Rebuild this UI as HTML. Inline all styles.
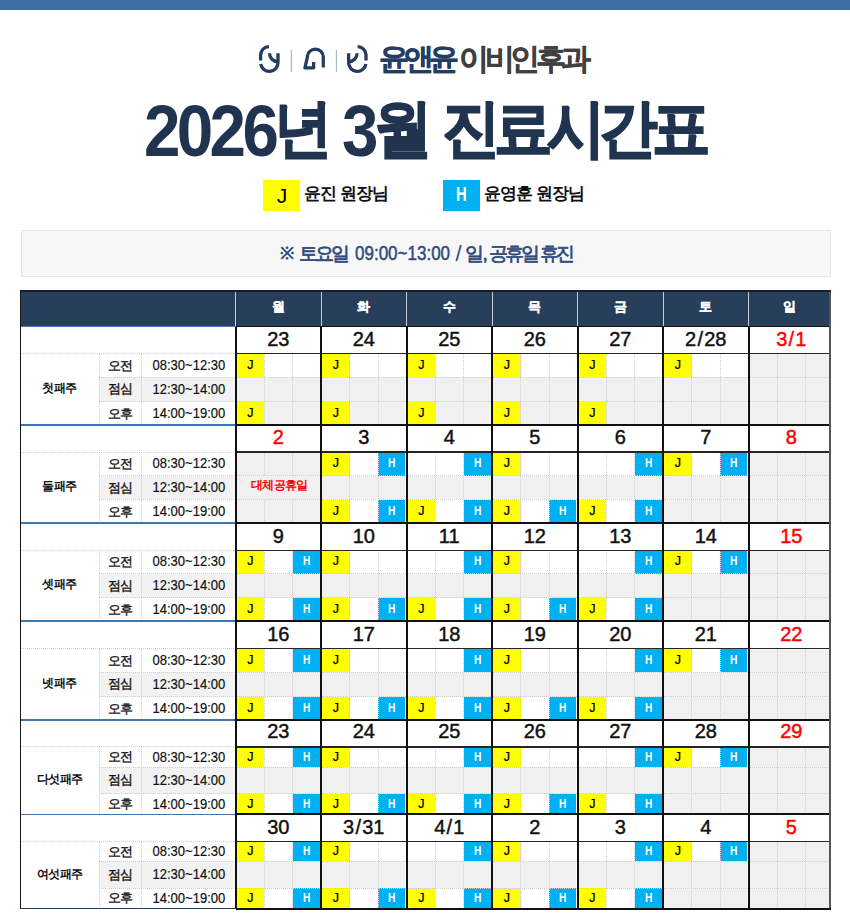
<!DOCTYPE html>
<html><head><meta charset="utf-8"><style>
html,body{margin:0;padding:0;background:#fff;}
body{width:850px;height:921px;position:relative;overflow:hidden;font-family:"Liberation Sans", sans-serif;}
body div{position:absolute;box-sizing:border-box;}
.t{text-align:center;white-space:nowrap;}
</style></head><body>
<div style="left:0.00px;top:0.00px;width:850.00px;height:10.00px;background:#3c6fa6"></div>
<div style="left:21.00px;top:230.00px;width:810.00px;height:47.00px;background:#f7f7f7;border:1px solid #e6e6e6"></div>
<div style="left:280.00px;top:245.00px;font-size:17px;line-height:17px;white-space:nowrap;color:#2f4b7c;font-weight:bold;">※</div>
<div style="left:299.00px;top:243.50px;font-size:19px;line-height:19px;white-space:nowrap;color:#2f4b7c;font-weight:bold;font-weight:normal;-webkit-text-stroke:0.7px #2f4b7c;letter-spacing:-3px">토요일</div>
<div style="left:354.50px;top:242.00px;font-size:21px;line-height:21px;white-space:nowrap;transform:scaleX(0.81);transform-origin:0 0;color:#2f4b7c;font-weight:bold;font-weight:normal;-webkit-text-stroke:0.5px #2f4b7c;">09:00~13:00</div>
<div style="left:455.50px;top:243.00px;font-size:22px;line-height:22px;white-space:nowrap;color:#2f4b7c;font-weight:bold;font-weight:normal;">/</div>
<div style="left:464.50px;top:243.50px;font-size:19px;line-height:19px;white-space:nowrap;color:#2f4b7c;font-weight:bold;font-weight:normal;-webkit-text-stroke:0.7px #2f4b7c;letter-spacing:-1px">일,</div>
<div style="left:489.00px;top:243.50px;font-size:19px;line-height:19px;white-space:nowrap;color:#2f4b7c;font-weight:bold;font-weight:normal;-webkit-text-stroke:0.7px #2f4b7c;letter-spacing:-3px">공휴일</div>
<div style="left:540.00px;top:243.50px;font-size:19px;line-height:19px;white-space:nowrap;color:#2f4b7c;font-weight:bold;font-weight:normal;-webkit-text-stroke:0.7px #2f4b7c;letter-spacing:-3px">휴진</div>
<div style="left:263.00px;top:179.50px;width:37.00px;height:31.50px;background:#ffff00"></div>
<div style="left:276.80px;top:184.50px;font-size:21px;line-height:21px;white-space:nowrap;color:#000">J</div>
<div style="left:304.00px;top:185.00px;font-size:17px;line-height:17px;white-space:nowrap;font-weight:bold;color:#111;letter-spacing:-1px">윤진 원장님</div>
<div style="left:443.00px;top:179.50px;width:36.80px;height:31.50px;background:#00b0f0"></div>
<div style="left:455.50px;top:184.00px;font-size:20px;line-height:20px;white-space:nowrap;transform:scaleX(0.74);transform-origin:0 0;color:#fff;font-weight:bold">H</div>
<div style="left:484.00px;top:185.00px;font-size:17px;line-height:17px;white-space:nowrap;font-weight:bold;color:#111;letter-spacing:-1px">윤영훈 원장님</div>
<div style="left:144.00px;top:95.00px;font-size:72px;line-height:72px;white-space:nowrap;transform:scaleX(0.91);transform-origin:0 0;color:#203450;font-weight:bold;letter-spacing:-4px">2026</div>
<div style="left:273.50px;top:96.50px;font-size:63px;line-height:63px;white-space:nowrap;transform:scaleX(0.93);transform-origin:0 0;color:#203450;font-weight:bold;-webkit-text-stroke:1.6px #203450;">년</div>
<div style="left:342.00px;top:95.00px;font-size:72px;line-height:72px;white-space:nowrap;transform:scaleX(0.91);transform-origin:0 0;color:#203450;font-weight:bold;">3</div>
<div style="left:373.70px;top:96.50px;font-size:63px;line-height:63px;white-space:nowrap;transform:scaleX(0.93);transform-origin:0 0;color:#203450;font-weight:bold;-webkit-text-stroke:1.6px #203450;">월</div>
<div style="left:442.00px;top:96.50px;font-size:63px;line-height:63px;white-space:nowrap;transform:scaleX(0.93);transform-origin:0 0;color:#203450;font-weight:bold;-webkit-text-stroke:1.6px #203450;letter-spacing:-6.6px">진료시간표</div>
<div style="left:379.00px;top:44.00px;font-size:30px;line-height:30px;white-space:nowrap;color:#233d63;font-weight:bold;-webkit-text-stroke:0.45px #233d63;letter-spacing:-4.8px">윤앤윤</div>
<div style="left:459.00px;top:44.00px;font-size:30px;line-height:30px;white-space:nowrap;color:#404040;font-weight:bold;-webkit-text-stroke:0.35px #404040;letter-spacing:-4.4px">이비인후과</div>
<div style="left:20.00px;top:290.50px;width:810.00px;height:36.00px;background:#283f5c"></div>
<div class="t" style="left:235.50px;top:289.00px;width:85.50px;height:36.00px;line-height:36.00px;font-size:12.5px;font-weight:bold;color:#fff;-webkit-text-stroke:0.4px #fff">월</div>
<div style="left:235.00px;top:292.00px;width:1.20px;height:34.50px;background:#c9ced6"></div>
<div class="t" style="left:321.00px;top:289.00px;width:85.50px;height:36.00px;line-height:36.00px;font-size:12.5px;font-weight:bold;color:#fff;-webkit-text-stroke:0.4px #fff">화</div>
<div style="left:320.50px;top:292.00px;width:1.20px;height:34.50px;background:#c9ced6"></div>
<div class="t" style="left:406.50px;top:289.00px;width:85.50px;height:36.00px;line-height:36.00px;font-size:12.5px;font-weight:bold;color:#fff;-webkit-text-stroke:0.4px #fff">수</div>
<div style="left:406.00px;top:292.00px;width:1.20px;height:34.50px;background:#c9ced6"></div>
<div class="t" style="left:492.00px;top:289.00px;width:85.50px;height:36.00px;line-height:36.00px;font-size:12.5px;font-weight:bold;color:#fff;-webkit-text-stroke:0.4px #fff">목</div>
<div style="left:491.50px;top:292.00px;width:1.20px;height:34.50px;background:#c9ced6"></div>
<div class="t" style="left:577.50px;top:289.00px;width:85.50px;height:36.00px;line-height:36.00px;font-size:12.5px;font-weight:bold;color:#fff;-webkit-text-stroke:0.4px #fff">금</div>
<div style="left:577.00px;top:292.00px;width:1.20px;height:34.50px;background:#c9ced6"></div>
<div class="t" style="left:663.00px;top:289.00px;width:85.50px;height:36.00px;line-height:36.00px;font-size:12.5px;font-weight:bold;color:#fff;-webkit-text-stroke:0.4px #fff">토</div>
<div style="left:662.50px;top:292.00px;width:1.20px;height:34.50px;background:#c9ced6"></div>
<div class="t" style="left:748.50px;top:289.00px;width:81.50px;height:36.00px;line-height:36.00px;font-size:12.5px;font-weight:bold;color:#fff;-webkit-text-stroke:0.4px #fff">일</div>
<div style="left:748.00px;top:292.00px;width:1.20px;height:34.50px;background:#c9ced6"></div>
<div style="left:99.00px;top:377.30px;width:136.50px;height:24.50px;background:#f2f2f2"></div>
<div style="left:20.00px;top:353.10px;width:215.50px;height:1.00px;border-top:1px dotted #cdcdcd"></div>
<div style="left:99.00px;top:376.80px;width:136.50px;height:1.00px;border-top:1px dotted #cdcdcd"></div>
<div style="left:99.00px;top:401.30px;width:136.50px;height:1.00px;border-top:1px dotted #cdcdcd"></div>
<div style="left:98.50px;top:353.60px;width:1.00px;height:71.20px;border-left:1px dotted #cdcdcd"></div>
<div style="left:141.20px;top:353.60px;width:1.00px;height:71.20px;border-left:1px dotted #cdcdcd"></div>
<div class="t" style="left:20.00px;top:352.60px;width:79.00px;height:71.20px;line-height:71.20px;font-size:12px;font-weight:bold;color:#111;letter-spacing:-0.5px">첫패주</div>
<div class="t" style="left:99.00px;top:353.60px;width:42.70px;height:23.70px;line-height:23.70px;font-size:13px;color:#111;-webkit-text-stroke:0.35px #111;letter-spacing:-0.5px">오전</div>
<div class="t" style="left:141.70px;top:353.60px;width:93.80px;height:23.70px;line-height:23.70px;font-size:14px;color:#111;-webkit-text-stroke:0.2px #111;transform:scaleX(0.93)">08:30~12:30</div>
<div class="t" style="left:99.00px;top:377.30px;width:42.70px;height:24.50px;line-height:24.50px;font-size:13px;color:#111;-webkit-text-stroke:0.35px #111;letter-spacing:-0.5px">점심</div>
<div class="t" style="left:141.70px;top:377.30px;width:93.80px;height:24.50px;line-height:24.50px;font-size:14px;color:#111;-webkit-text-stroke:0.2px #111;transform:scaleX(0.93)">12:30~14:00</div>
<div class="t" style="left:99.00px;top:401.80px;width:42.70px;height:23.00px;line-height:23.00px;font-size:13px;color:#111;-webkit-text-stroke:0.35px #111;letter-spacing:-0.5px">오후</div>
<div class="t" style="left:141.70px;top:401.80px;width:93.80px;height:23.00px;line-height:23.00px;font-size:14px;color:#111;-webkit-text-stroke:0.2px #111;transform:scaleX(0.93)">14:00~19:00</div>
<div class="t" style="left:235.50px;top:326.00px;width:85.50px;height:26.10px;line-height:26.10px;font-size:20px;color:#111;-webkit-text-stroke:0.45px #111">23</div>
<div style="left:236.50px;top:353.60px;width:27.60px;height:23.70px;background:#ffff00"></div>
<div class="t" style="left:236.50px;top:353.60px;width:27.60px;height:23.70px;line-height:23.70px;font-size:12.5px;color:#000;-webkit-text-stroke:0.25px #000">J</div>
<div style="left:264.10px;top:353.60px;width:28.60px;height:23.70px;background:#ffffff"></div>
<div style="left:292.70px;top:353.60px;width:27.30px;height:23.70px;background:#ffffff"></div>
<div style="left:236.50px;top:377.30px;width:27.60px;height:24.50px;background:#f0f0f0"></div>
<div style="left:264.10px;top:377.30px;width:28.60px;height:24.50px;background:#f0f0f0"></div>
<div style="left:292.70px;top:377.30px;width:27.30px;height:24.50px;background:#f0f0f0"></div>
<div style="left:236.50px;top:401.80px;width:27.60px;height:23.00px;background:#ffff00"></div>
<div class="t" style="left:236.50px;top:401.80px;width:27.60px;height:23.00px;line-height:23.00px;font-size:12.5px;color:#000;-webkit-text-stroke:0.25px #000">J</div>
<div style="left:264.10px;top:401.80px;width:28.60px;height:23.00px;background:#f0f0f0"></div>
<div style="left:292.70px;top:401.80px;width:27.30px;height:23.00px;background:#f0f0f0"></div>
<div style="left:263.60px;top:353.60px;width:1.00px;height:71.20px;border-left:1px dotted #cdcdcd"></div>
<div style="left:292.20px;top:353.60px;width:1.00px;height:71.20px;border-left:1px dotted #cdcdcd"></div>
<div style="left:236.50px;top:376.80px;width:83.50px;height:1.00px;border-top:1px dotted #cdcdcd"></div>
<div style="left:236.50px;top:401.30px;width:83.50px;height:1.00px;border-top:1px dotted #cdcdcd"></div>
<div class="t" style="left:321.00px;top:326.00px;width:85.50px;height:26.10px;line-height:26.10px;font-size:20px;color:#111;-webkit-text-stroke:0.45px #111">24</div>
<div style="left:322.00px;top:353.60px;width:27.60px;height:23.70px;background:#ffff00"></div>
<div class="t" style="left:322.00px;top:353.60px;width:27.60px;height:23.70px;line-height:23.70px;font-size:12.5px;color:#000;-webkit-text-stroke:0.25px #000">J</div>
<div style="left:349.60px;top:353.60px;width:28.60px;height:23.70px;background:#ffffff"></div>
<div style="left:378.20px;top:353.60px;width:27.30px;height:23.70px;background:#ffffff"></div>
<div style="left:322.00px;top:377.30px;width:27.60px;height:24.50px;background:#f0f0f0"></div>
<div style="left:349.60px;top:377.30px;width:28.60px;height:24.50px;background:#f0f0f0"></div>
<div style="left:378.20px;top:377.30px;width:27.30px;height:24.50px;background:#f0f0f0"></div>
<div style="left:322.00px;top:401.80px;width:27.60px;height:23.00px;background:#ffff00"></div>
<div class="t" style="left:322.00px;top:401.80px;width:27.60px;height:23.00px;line-height:23.00px;font-size:12.5px;color:#000;-webkit-text-stroke:0.25px #000">J</div>
<div style="left:349.60px;top:401.80px;width:28.60px;height:23.00px;background:#f0f0f0"></div>
<div style="left:378.20px;top:401.80px;width:27.30px;height:23.00px;background:#f0f0f0"></div>
<div style="left:349.10px;top:353.60px;width:1.00px;height:71.20px;border-left:1px dotted #cdcdcd"></div>
<div style="left:377.70px;top:353.60px;width:1.00px;height:71.20px;border-left:1px dotted #cdcdcd"></div>
<div style="left:322.00px;top:376.80px;width:83.50px;height:1.00px;border-top:1px dotted #cdcdcd"></div>
<div style="left:322.00px;top:401.30px;width:83.50px;height:1.00px;border-top:1px dotted #cdcdcd"></div>
<div class="t" style="left:406.50px;top:326.00px;width:85.50px;height:26.10px;line-height:26.10px;font-size:20px;color:#111;-webkit-text-stroke:0.45px #111">25</div>
<div style="left:407.50px;top:353.60px;width:27.60px;height:23.70px;background:#ffff00"></div>
<div class="t" style="left:407.50px;top:353.60px;width:27.60px;height:23.70px;line-height:23.70px;font-size:12.5px;color:#000;-webkit-text-stroke:0.25px #000">J</div>
<div style="left:435.10px;top:353.60px;width:28.60px;height:23.70px;background:#ffffff"></div>
<div style="left:463.70px;top:353.60px;width:27.30px;height:23.70px;background:#ffffff"></div>
<div style="left:407.50px;top:377.30px;width:27.60px;height:24.50px;background:#f0f0f0"></div>
<div style="left:435.10px;top:377.30px;width:28.60px;height:24.50px;background:#f0f0f0"></div>
<div style="left:463.70px;top:377.30px;width:27.30px;height:24.50px;background:#f0f0f0"></div>
<div style="left:407.50px;top:401.80px;width:27.60px;height:23.00px;background:#ffff00"></div>
<div class="t" style="left:407.50px;top:401.80px;width:27.60px;height:23.00px;line-height:23.00px;font-size:12.5px;color:#000;-webkit-text-stroke:0.25px #000">J</div>
<div style="left:435.10px;top:401.80px;width:28.60px;height:23.00px;background:#f0f0f0"></div>
<div style="left:463.70px;top:401.80px;width:27.30px;height:23.00px;background:#f0f0f0"></div>
<div style="left:434.60px;top:353.60px;width:1.00px;height:71.20px;border-left:1px dotted #cdcdcd"></div>
<div style="left:463.20px;top:353.60px;width:1.00px;height:71.20px;border-left:1px dotted #cdcdcd"></div>
<div style="left:407.50px;top:376.80px;width:83.50px;height:1.00px;border-top:1px dotted #cdcdcd"></div>
<div style="left:407.50px;top:401.30px;width:83.50px;height:1.00px;border-top:1px dotted #cdcdcd"></div>
<div class="t" style="left:492.00px;top:326.00px;width:85.50px;height:26.10px;line-height:26.10px;font-size:20px;color:#111;-webkit-text-stroke:0.45px #111">26</div>
<div style="left:493.00px;top:353.60px;width:27.60px;height:23.70px;background:#ffff00"></div>
<div class="t" style="left:493.00px;top:353.60px;width:27.60px;height:23.70px;line-height:23.70px;font-size:12.5px;color:#000;-webkit-text-stroke:0.25px #000">J</div>
<div style="left:520.60px;top:353.60px;width:28.60px;height:23.70px;background:#ffffff"></div>
<div style="left:549.20px;top:353.60px;width:27.30px;height:23.70px;background:#ffffff"></div>
<div style="left:493.00px;top:377.30px;width:27.60px;height:24.50px;background:#f0f0f0"></div>
<div style="left:520.60px;top:377.30px;width:28.60px;height:24.50px;background:#f0f0f0"></div>
<div style="left:549.20px;top:377.30px;width:27.30px;height:24.50px;background:#f0f0f0"></div>
<div style="left:493.00px;top:401.80px;width:27.60px;height:23.00px;background:#ffff00"></div>
<div class="t" style="left:493.00px;top:401.80px;width:27.60px;height:23.00px;line-height:23.00px;font-size:12.5px;color:#000;-webkit-text-stroke:0.25px #000">J</div>
<div style="left:520.60px;top:401.80px;width:28.60px;height:23.00px;background:#f0f0f0"></div>
<div style="left:549.20px;top:401.80px;width:27.30px;height:23.00px;background:#f0f0f0"></div>
<div style="left:520.10px;top:353.60px;width:1.00px;height:71.20px;border-left:1px dotted #cdcdcd"></div>
<div style="left:548.70px;top:353.60px;width:1.00px;height:71.20px;border-left:1px dotted #cdcdcd"></div>
<div style="left:493.00px;top:376.80px;width:83.50px;height:1.00px;border-top:1px dotted #cdcdcd"></div>
<div style="left:493.00px;top:401.30px;width:83.50px;height:1.00px;border-top:1px dotted #cdcdcd"></div>
<div class="t" style="left:577.50px;top:326.00px;width:85.50px;height:26.10px;line-height:26.10px;font-size:20px;color:#111;-webkit-text-stroke:0.45px #111">27</div>
<div style="left:578.50px;top:353.60px;width:27.60px;height:23.70px;background:#ffff00"></div>
<div class="t" style="left:578.50px;top:353.60px;width:27.60px;height:23.70px;line-height:23.70px;font-size:12.5px;color:#000;-webkit-text-stroke:0.25px #000">J</div>
<div style="left:606.10px;top:353.60px;width:28.60px;height:23.70px;background:#ffffff"></div>
<div style="left:634.70px;top:353.60px;width:27.30px;height:23.70px;background:#ffffff"></div>
<div style="left:578.50px;top:377.30px;width:27.60px;height:24.50px;background:#f0f0f0"></div>
<div style="left:606.10px;top:377.30px;width:28.60px;height:24.50px;background:#f0f0f0"></div>
<div style="left:634.70px;top:377.30px;width:27.30px;height:24.50px;background:#f0f0f0"></div>
<div style="left:578.50px;top:401.80px;width:27.60px;height:23.00px;background:#ffff00"></div>
<div class="t" style="left:578.50px;top:401.80px;width:27.60px;height:23.00px;line-height:23.00px;font-size:12.5px;color:#000;-webkit-text-stroke:0.25px #000">J</div>
<div style="left:606.10px;top:401.80px;width:28.60px;height:23.00px;background:#f0f0f0"></div>
<div style="left:634.70px;top:401.80px;width:27.30px;height:23.00px;background:#f0f0f0"></div>
<div style="left:605.60px;top:353.60px;width:1.00px;height:71.20px;border-left:1px dotted #cdcdcd"></div>
<div style="left:634.20px;top:353.60px;width:1.00px;height:71.20px;border-left:1px dotted #cdcdcd"></div>
<div style="left:578.50px;top:376.80px;width:83.50px;height:1.00px;border-top:1px dotted #cdcdcd"></div>
<div style="left:578.50px;top:401.30px;width:83.50px;height:1.00px;border-top:1px dotted #cdcdcd"></div>
<div class="t" style="left:663.00px;top:326.00px;width:85.50px;height:26.10px;line-height:26.10px;font-size:20px;color:#111;-webkit-text-stroke:0.45px #111">2<span style="margin:0 1.2px">/</span>28</div>
<div style="left:664.00px;top:353.60px;width:27.60px;height:23.70px;background:#ffff00"></div>
<div class="t" style="left:664.00px;top:353.60px;width:27.60px;height:23.70px;line-height:23.70px;font-size:12.5px;color:#000;-webkit-text-stroke:0.25px #000">J</div>
<div style="left:691.60px;top:353.60px;width:28.60px;height:23.70px;background:#ffffff"></div>
<div style="left:720.20px;top:353.60px;width:27.30px;height:23.70px;background:#ffffff"></div>
<div style="left:664.00px;top:377.30px;width:27.60px;height:24.50px;background:#f0f0f0"></div>
<div style="left:691.60px;top:377.30px;width:28.60px;height:24.50px;background:#f0f0f0"></div>
<div style="left:720.20px;top:377.30px;width:27.30px;height:24.50px;background:#f0f0f0"></div>
<div style="left:664.00px;top:401.80px;width:27.60px;height:23.00px;background:#f0f0f0"></div>
<div style="left:691.60px;top:401.80px;width:28.60px;height:23.00px;background:#f0f0f0"></div>
<div style="left:720.20px;top:401.80px;width:27.30px;height:23.00px;background:#f0f0f0"></div>
<div style="left:691.10px;top:353.60px;width:1.00px;height:71.20px;border-left:1px dotted #cdcdcd"></div>
<div style="left:719.70px;top:353.60px;width:1.00px;height:71.20px;border-left:1px dotted #cdcdcd"></div>
<div style="left:664.00px;top:376.80px;width:83.50px;height:1.00px;border-top:1px dotted #cdcdcd"></div>
<div style="left:664.00px;top:401.30px;width:83.50px;height:1.00px;border-top:1px dotted #cdcdcd"></div>
<div class="t" style="left:748.50px;top:326.00px;width:85.50px;height:26.10px;line-height:26.10px;font-size:20px;color:#ff0000;-webkit-text-stroke:0.45px #ff0000">3<span style="margin:0 1.2px">/</span>1</div>
<div style="left:749.50px;top:353.60px;width:27.60px;height:23.70px;background:#f0f0f0"></div>
<div style="left:777.10px;top:353.60px;width:28.60px;height:23.70px;background:#f0f0f0"></div>
<div style="left:805.70px;top:353.60px;width:23.30px;height:23.70px;background:#f0f0f0"></div>
<div style="left:749.50px;top:377.30px;width:27.60px;height:24.50px;background:#f0f0f0"></div>
<div style="left:777.10px;top:377.30px;width:28.60px;height:24.50px;background:#f0f0f0"></div>
<div style="left:805.70px;top:377.30px;width:23.30px;height:24.50px;background:#f0f0f0"></div>
<div style="left:749.50px;top:401.80px;width:27.60px;height:23.00px;background:#f0f0f0"></div>
<div style="left:777.10px;top:401.80px;width:28.60px;height:23.00px;background:#f0f0f0"></div>
<div style="left:805.70px;top:401.80px;width:23.30px;height:23.00px;background:#f0f0f0"></div>
<div style="left:776.60px;top:353.60px;width:1.00px;height:71.20px;border-left:1px dotted #cdcdcd"></div>
<div style="left:805.20px;top:353.60px;width:1.00px;height:71.20px;border-left:1px dotted #cdcdcd"></div>
<div style="left:749.50px;top:376.80px;width:79.50px;height:1.00px;border-top:1px dotted #cdcdcd"></div>
<div style="left:749.50px;top:401.30px;width:79.50px;height:1.00px;border-top:1px dotted #cdcdcd"></div>
<div style="left:235.50px;top:352.85px;width:594.50px;height:1.50px;background:#262626"></div>
<div style="left:20.00px;top:424.05px;width:215.50px;height:1.50px;background:#3f74b0"></div>
<div style="left:235.50px;top:423.80px;width:594.50px;height:2.00px;background:#111"></div>
<div style="left:99.00px;top:475.80px;width:136.50px;height:23.70px;background:#f2f2f2"></div>
<div style="left:20.00px;top:451.50px;width:215.50px;height:1.00px;border-top:1px dotted #cdcdcd"></div>
<div style="left:99.00px;top:475.30px;width:136.50px;height:1.00px;border-top:1px dotted #cdcdcd"></div>
<div style="left:99.00px;top:499.00px;width:136.50px;height:1.00px;border-top:1px dotted #cdcdcd"></div>
<div style="left:98.50px;top:452.00px;width:1.00px;height:71.00px;border-left:1px dotted #cdcdcd"></div>
<div style="left:141.20px;top:452.00px;width:1.00px;height:71.00px;border-left:1px dotted #cdcdcd"></div>
<div class="t" style="left:20.00px;top:451.00px;width:79.00px;height:71.00px;line-height:71.00px;font-size:12px;font-weight:bold;color:#111;letter-spacing:-0.5px">둘패주</div>
<div class="t" style="left:99.00px;top:452.00px;width:42.70px;height:23.80px;line-height:23.80px;font-size:13px;color:#111;-webkit-text-stroke:0.35px #111;letter-spacing:-0.5px">오전</div>
<div class="t" style="left:141.70px;top:452.00px;width:93.80px;height:23.80px;line-height:23.80px;font-size:14px;color:#111;-webkit-text-stroke:0.2px #111;transform:scaleX(0.93)">08:30~12:30</div>
<div class="t" style="left:99.00px;top:475.80px;width:42.70px;height:23.70px;line-height:23.70px;font-size:13px;color:#111;-webkit-text-stroke:0.35px #111;letter-spacing:-0.5px">점심</div>
<div class="t" style="left:141.70px;top:475.80px;width:93.80px;height:23.70px;line-height:23.70px;font-size:14px;color:#111;-webkit-text-stroke:0.2px #111;transform:scaleX(0.93)">12:30~14:00</div>
<div class="t" style="left:99.00px;top:499.50px;width:42.70px;height:23.50px;line-height:23.50px;font-size:13px;color:#111;-webkit-text-stroke:0.35px #111;letter-spacing:-0.5px">오후</div>
<div class="t" style="left:141.70px;top:499.50px;width:93.80px;height:23.50px;line-height:23.50px;font-size:14px;color:#111;-webkit-text-stroke:0.2px #111;transform:scaleX(0.93)">14:00~19:00</div>
<div class="t" style="left:235.50px;top:424.30px;width:85.50px;height:26.20px;line-height:26.20px;font-size:20px;color:#ff0000;-webkit-text-stroke:0.45px #ff0000">2</div>
<div style="left:236.50px;top:452.00px;width:83.50px;height:71.00px;background:#f0f0f0"></div>
<div style="left:263.60px;top:452.00px;width:1.00px;height:23.80px;border-left:1px dotted #cdcdcd"></div>
<div style="left:263.60px;top:499.50px;width:1.00px;height:23.50px;border-left:1px dotted #cdcdcd"></div>
<div style="left:292.20px;top:452.00px;width:1.00px;height:23.80px;border-left:1px dotted #cdcdcd"></div>
<div style="left:292.20px;top:499.50px;width:1.00px;height:23.50px;border-left:1px dotted #cdcdcd"></div>
<div style="left:236.50px;top:475.30px;width:83.50px;height:1.00px;border-top:1px dotted #cdcdcd"></div>
<div style="left:236.50px;top:499.00px;width:83.50px;height:1.00px;border-top:1px dotted #cdcdcd"></div>
<div class="t" style="left:236.50px;top:474.30px;width:85.50px;height:23.70px;line-height:23.70px;font-size:12px;font-weight:bold;color:#ff0000;letter-spacing:-0.6px">대체공휴일</div>
<div class="t" style="left:321.00px;top:424.30px;width:85.50px;height:26.20px;line-height:26.20px;font-size:20px;color:#111;-webkit-text-stroke:0.45px #111">3</div>
<div style="left:322.00px;top:452.00px;width:27.60px;height:23.80px;background:#ffff00"></div>
<div class="t" style="left:322.00px;top:452.00px;width:27.60px;height:23.80px;line-height:23.80px;font-size:12.5px;color:#000;-webkit-text-stroke:0.25px #000">J</div>
<div style="left:349.60px;top:452.00px;width:28.60px;height:23.80px;background:#ffffff"></div>
<div style="left:378.20px;top:452.00px;width:27.30px;height:23.80px;background:#00b0f0"></div>
<div class="t" style="left:378.20px;top:452.00px;width:27.30px;height:23.80px;line-height:23.80px;font-size:12.5px;font-weight:bold;color:#fff;transform:scaleX(0.82)">H</div>
<div style="left:322.00px;top:475.80px;width:27.60px;height:23.70px;background:#f0f0f0"></div>
<div style="left:349.60px;top:475.80px;width:28.60px;height:23.70px;background:#f0f0f0"></div>
<div style="left:378.20px;top:475.80px;width:27.30px;height:23.70px;background:#f0f0f0"></div>
<div style="left:322.00px;top:499.50px;width:27.60px;height:23.50px;background:#ffff00"></div>
<div class="t" style="left:322.00px;top:499.50px;width:27.60px;height:23.50px;line-height:23.50px;font-size:12.5px;color:#000;-webkit-text-stroke:0.25px #000">J</div>
<div style="left:349.60px;top:499.50px;width:28.60px;height:23.50px;background:#ffffff"></div>
<div style="left:378.20px;top:499.50px;width:27.30px;height:23.50px;background:#00b0f0"></div>
<div class="t" style="left:378.20px;top:499.50px;width:27.30px;height:23.50px;line-height:23.50px;font-size:12.5px;font-weight:bold;color:#fff;transform:scaleX(0.82)">H</div>
<div style="left:349.10px;top:452.00px;width:1.00px;height:71.00px;border-left:1px dotted #cdcdcd"></div>
<div style="left:377.70px;top:452.00px;width:1.00px;height:71.00px;border-left:1px dotted #cdcdcd"></div>
<div style="left:322.00px;top:475.30px;width:83.50px;height:1.00px;border-top:1px dotted #cdcdcd"></div>
<div style="left:322.00px;top:499.00px;width:83.50px;height:1.00px;border-top:1px dotted #cdcdcd"></div>
<div class="t" style="left:406.50px;top:424.30px;width:85.50px;height:26.20px;line-height:26.20px;font-size:20px;color:#111;-webkit-text-stroke:0.45px #111">4</div>
<div style="left:407.50px;top:452.00px;width:27.60px;height:23.80px;background:#ffffff"></div>
<div style="left:435.10px;top:452.00px;width:28.60px;height:23.80px;background:#ffffff"></div>
<div style="left:463.70px;top:452.00px;width:27.30px;height:23.80px;background:#00b0f0"></div>
<div class="t" style="left:463.70px;top:452.00px;width:27.30px;height:23.80px;line-height:23.80px;font-size:12.5px;font-weight:bold;color:#fff;transform:scaleX(0.82)">H</div>
<div style="left:407.50px;top:475.80px;width:27.60px;height:23.70px;background:#f0f0f0"></div>
<div style="left:435.10px;top:475.80px;width:28.60px;height:23.70px;background:#f0f0f0"></div>
<div style="left:463.70px;top:475.80px;width:27.30px;height:23.70px;background:#f0f0f0"></div>
<div style="left:407.50px;top:499.50px;width:27.60px;height:23.50px;background:#ffff00"></div>
<div class="t" style="left:407.50px;top:499.50px;width:27.60px;height:23.50px;line-height:23.50px;font-size:12.5px;color:#000;-webkit-text-stroke:0.25px #000">J</div>
<div style="left:435.10px;top:499.50px;width:28.60px;height:23.50px;background:#ffffff"></div>
<div style="left:463.70px;top:499.50px;width:27.30px;height:23.50px;background:#00b0f0"></div>
<div class="t" style="left:463.70px;top:499.50px;width:27.30px;height:23.50px;line-height:23.50px;font-size:12.5px;font-weight:bold;color:#fff;transform:scaleX(0.82)">H</div>
<div style="left:434.60px;top:452.00px;width:1.00px;height:71.00px;border-left:1px dotted #cdcdcd"></div>
<div style="left:463.20px;top:452.00px;width:1.00px;height:71.00px;border-left:1px dotted #cdcdcd"></div>
<div style="left:407.50px;top:475.30px;width:83.50px;height:1.00px;border-top:1px dotted #cdcdcd"></div>
<div style="left:407.50px;top:499.00px;width:83.50px;height:1.00px;border-top:1px dotted #cdcdcd"></div>
<div class="t" style="left:492.00px;top:424.30px;width:85.50px;height:26.20px;line-height:26.20px;font-size:20px;color:#111;-webkit-text-stroke:0.45px #111">5</div>
<div style="left:493.00px;top:452.00px;width:27.60px;height:23.80px;background:#ffff00"></div>
<div class="t" style="left:493.00px;top:452.00px;width:27.60px;height:23.80px;line-height:23.80px;font-size:12.5px;color:#000;-webkit-text-stroke:0.25px #000">J</div>
<div style="left:520.60px;top:452.00px;width:28.60px;height:23.80px;background:#ffffff"></div>
<div style="left:549.20px;top:452.00px;width:27.30px;height:23.80px;background:#ffffff"></div>
<div style="left:493.00px;top:475.80px;width:27.60px;height:23.70px;background:#f0f0f0"></div>
<div style="left:520.60px;top:475.80px;width:28.60px;height:23.70px;background:#f0f0f0"></div>
<div style="left:549.20px;top:475.80px;width:27.30px;height:23.70px;background:#f0f0f0"></div>
<div style="left:493.00px;top:499.50px;width:27.60px;height:23.50px;background:#ffff00"></div>
<div class="t" style="left:493.00px;top:499.50px;width:27.60px;height:23.50px;line-height:23.50px;font-size:12.5px;color:#000;-webkit-text-stroke:0.25px #000">J</div>
<div style="left:520.60px;top:499.50px;width:28.60px;height:23.50px;background:#ffffff"></div>
<div style="left:549.20px;top:499.50px;width:27.30px;height:23.50px;background:#00b0f0"></div>
<div class="t" style="left:549.20px;top:499.50px;width:27.30px;height:23.50px;line-height:23.50px;font-size:12.5px;font-weight:bold;color:#fff;transform:scaleX(0.82)">H</div>
<div style="left:520.10px;top:452.00px;width:1.00px;height:71.00px;border-left:1px dotted #cdcdcd"></div>
<div style="left:548.70px;top:452.00px;width:1.00px;height:71.00px;border-left:1px dotted #cdcdcd"></div>
<div style="left:493.00px;top:475.30px;width:83.50px;height:1.00px;border-top:1px dotted #cdcdcd"></div>
<div style="left:493.00px;top:499.00px;width:83.50px;height:1.00px;border-top:1px dotted #cdcdcd"></div>
<div class="t" style="left:577.50px;top:424.30px;width:85.50px;height:26.20px;line-height:26.20px;font-size:20px;color:#111;-webkit-text-stroke:0.45px #111">6</div>
<div style="left:578.50px;top:452.00px;width:27.60px;height:23.80px;background:#ffffff"></div>
<div style="left:606.10px;top:452.00px;width:28.60px;height:23.80px;background:#ffffff"></div>
<div style="left:634.70px;top:452.00px;width:27.30px;height:23.80px;background:#00b0f0"></div>
<div class="t" style="left:634.70px;top:452.00px;width:27.30px;height:23.80px;line-height:23.80px;font-size:12.5px;font-weight:bold;color:#fff;transform:scaleX(0.82)">H</div>
<div style="left:578.50px;top:475.80px;width:27.60px;height:23.70px;background:#f0f0f0"></div>
<div style="left:606.10px;top:475.80px;width:28.60px;height:23.70px;background:#f0f0f0"></div>
<div style="left:634.70px;top:475.80px;width:27.30px;height:23.70px;background:#f0f0f0"></div>
<div style="left:578.50px;top:499.50px;width:27.60px;height:23.50px;background:#ffff00"></div>
<div class="t" style="left:578.50px;top:499.50px;width:27.60px;height:23.50px;line-height:23.50px;font-size:12.5px;color:#000;-webkit-text-stroke:0.25px #000">J</div>
<div style="left:606.10px;top:499.50px;width:28.60px;height:23.50px;background:#ffffff"></div>
<div style="left:634.70px;top:499.50px;width:27.30px;height:23.50px;background:#00b0f0"></div>
<div class="t" style="left:634.70px;top:499.50px;width:27.30px;height:23.50px;line-height:23.50px;font-size:12.5px;font-weight:bold;color:#fff;transform:scaleX(0.82)">H</div>
<div style="left:605.60px;top:452.00px;width:1.00px;height:71.00px;border-left:1px dotted #cdcdcd"></div>
<div style="left:634.20px;top:452.00px;width:1.00px;height:71.00px;border-left:1px dotted #cdcdcd"></div>
<div style="left:578.50px;top:475.30px;width:83.50px;height:1.00px;border-top:1px dotted #cdcdcd"></div>
<div style="left:578.50px;top:499.00px;width:83.50px;height:1.00px;border-top:1px dotted #cdcdcd"></div>
<div class="t" style="left:663.00px;top:424.30px;width:85.50px;height:26.20px;line-height:26.20px;font-size:20px;color:#111;-webkit-text-stroke:0.45px #111">7</div>
<div style="left:664.00px;top:452.00px;width:27.60px;height:23.80px;background:#ffff00"></div>
<div class="t" style="left:664.00px;top:452.00px;width:27.60px;height:23.80px;line-height:23.80px;font-size:12.5px;color:#000;-webkit-text-stroke:0.25px #000">J</div>
<div style="left:691.60px;top:452.00px;width:28.60px;height:23.80px;background:#ffffff"></div>
<div style="left:720.20px;top:452.00px;width:27.30px;height:23.80px;background:#00b0f0"></div>
<div class="t" style="left:720.20px;top:452.00px;width:27.30px;height:23.80px;line-height:23.80px;font-size:12.5px;font-weight:bold;color:#fff;transform:scaleX(0.82)">H</div>
<div style="left:664.00px;top:475.80px;width:27.60px;height:23.70px;background:#f0f0f0"></div>
<div style="left:691.60px;top:475.80px;width:28.60px;height:23.70px;background:#f0f0f0"></div>
<div style="left:720.20px;top:475.80px;width:27.30px;height:23.70px;background:#f0f0f0"></div>
<div style="left:664.00px;top:499.50px;width:27.60px;height:23.50px;background:#f0f0f0"></div>
<div style="left:691.60px;top:499.50px;width:28.60px;height:23.50px;background:#f0f0f0"></div>
<div style="left:720.20px;top:499.50px;width:27.30px;height:23.50px;background:#f0f0f0"></div>
<div style="left:691.10px;top:452.00px;width:1.00px;height:71.00px;border-left:1px dotted #cdcdcd"></div>
<div style="left:719.70px;top:452.00px;width:1.00px;height:71.00px;border-left:1px dotted #cdcdcd"></div>
<div style="left:664.00px;top:475.30px;width:83.50px;height:1.00px;border-top:1px dotted #cdcdcd"></div>
<div style="left:664.00px;top:499.00px;width:83.50px;height:1.00px;border-top:1px dotted #cdcdcd"></div>
<div class="t" style="left:748.50px;top:424.30px;width:85.50px;height:26.20px;line-height:26.20px;font-size:20px;color:#ff0000;-webkit-text-stroke:0.45px #ff0000">8</div>
<div style="left:749.50px;top:452.00px;width:27.60px;height:23.80px;background:#f0f0f0"></div>
<div style="left:777.10px;top:452.00px;width:28.60px;height:23.80px;background:#f0f0f0"></div>
<div style="left:805.70px;top:452.00px;width:23.30px;height:23.80px;background:#f0f0f0"></div>
<div style="left:749.50px;top:475.80px;width:27.60px;height:23.70px;background:#f0f0f0"></div>
<div style="left:777.10px;top:475.80px;width:28.60px;height:23.70px;background:#f0f0f0"></div>
<div style="left:805.70px;top:475.80px;width:23.30px;height:23.70px;background:#f0f0f0"></div>
<div style="left:749.50px;top:499.50px;width:27.60px;height:23.50px;background:#f0f0f0"></div>
<div style="left:777.10px;top:499.50px;width:28.60px;height:23.50px;background:#f0f0f0"></div>
<div style="left:805.70px;top:499.50px;width:23.30px;height:23.50px;background:#f0f0f0"></div>
<div style="left:776.60px;top:452.00px;width:1.00px;height:71.00px;border-left:1px dotted #cdcdcd"></div>
<div style="left:805.20px;top:452.00px;width:1.00px;height:71.00px;border-left:1px dotted #cdcdcd"></div>
<div style="left:749.50px;top:475.30px;width:79.50px;height:1.00px;border-top:1px dotted #cdcdcd"></div>
<div style="left:749.50px;top:499.00px;width:79.50px;height:1.00px;border-top:1px dotted #cdcdcd"></div>
<div style="left:235.50px;top:451.25px;width:594.50px;height:1.50px;background:#262626"></div>
<div style="left:20.00px;top:522.25px;width:215.50px;height:1.50px;background:#3f74b0"></div>
<div style="left:235.50px;top:522.00px;width:594.50px;height:2.00px;background:#111"></div>
<div style="left:99.00px;top:573.90px;width:136.50px;height:23.80px;background:#f2f2f2"></div>
<div style="left:20.00px;top:549.80px;width:215.50px;height:1.00px;border-top:1px dotted #cdcdcd"></div>
<div style="left:99.00px;top:573.40px;width:136.50px;height:1.00px;border-top:1px dotted #cdcdcd"></div>
<div style="left:99.00px;top:597.20px;width:136.50px;height:1.00px;border-top:1px dotted #cdcdcd"></div>
<div style="left:98.50px;top:550.30px;width:1.00px;height:70.90px;border-left:1px dotted #cdcdcd"></div>
<div style="left:141.20px;top:550.30px;width:1.00px;height:70.90px;border-left:1px dotted #cdcdcd"></div>
<div class="t" style="left:20.00px;top:549.30px;width:79.00px;height:70.90px;line-height:70.90px;font-size:12px;font-weight:bold;color:#111;letter-spacing:-0.5px">셋패주</div>
<div class="t" style="left:99.00px;top:550.30px;width:42.70px;height:23.60px;line-height:23.60px;font-size:13px;color:#111;-webkit-text-stroke:0.35px #111;letter-spacing:-0.5px">오전</div>
<div class="t" style="left:141.70px;top:550.30px;width:93.80px;height:23.60px;line-height:23.60px;font-size:14px;color:#111;-webkit-text-stroke:0.2px #111;transform:scaleX(0.93)">08:30~12:30</div>
<div class="t" style="left:99.00px;top:573.90px;width:42.70px;height:23.80px;line-height:23.80px;font-size:13px;color:#111;-webkit-text-stroke:0.35px #111;letter-spacing:-0.5px">점심</div>
<div class="t" style="left:141.70px;top:573.90px;width:93.80px;height:23.80px;line-height:23.80px;font-size:14px;color:#111;-webkit-text-stroke:0.2px #111;transform:scaleX(0.93)">12:30~14:00</div>
<div class="t" style="left:99.00px;top:597.70px;width:42.70px;height:23.50px;line-height:23.50px;font-size:13px;color:#111;-webkit-text-stroke:0.35px #111;letter-spacing:-0.5px">오후</div>
<div class="t" style="left:141.70px;top:597.70px;width:93.80px;height:23.50px;line-height:23.50px;font-size:14px;color:#111;-webkit-text-stroke:0.2px #111;transform:scaleX(0.93)">14:00~19:00</div>
<div class="t" style="left:235.50px;top:522.50px;width:85.50px;height:26.30px;line-height:26.30px;font-size:20px;color:#111;-webkit-text-stroke:0.45px #111">9</div>
<div style="left:236.50px;top:550.30px;width:27.60px;height:23.60px;background:#ffff00"></div>
<div class="t" style="left:236.50px;top:550.30px;width:27.60px;height:23.60px;line-height:23.60px;font-size:12.5px;color:#000;-webkit-text-stroke:0.25px #000">J</div>
<div style="left:264.10px;top:550.30px;width:28.60px;height:23.60px;background:#ffffff"></div>
<div style="left:292.70px;top:550.30px;width:27.30px;height:23.60px;background:#00b0f0"></div>
<div class="t" style="left:292.70px;top:550.30px;width:27.30px;height:23.60px;line-height:23.60px;font-size:12.5px;font-weight:bold;color:#fff;transform:scaleX(0.82)">H</div>
<div style="left:236.50px;top:573.90px;width:27.60px;height:23.80px;background:#f0f0f0"></div>
<div style="left:264.10px;top:573.90px;width:28.60px;height:23.80px;background:#f0f0f0"></div>
<div style="left:292.70px;top:573.90px;width:27.30px;height:23.80px;background:#f0f0f0"></div>
<div style="left:236.50px;top:597.70px;width:27.60px;height:23.50px;background:#ffff00"></div>
<div class="t" style="left:236.50px;top:597.70px;width:27.60px;height:23.50px;line-height:23.50px;font-size:12.5px;color:#000;-webkit-text-stroke:0.25px #000">J</div>
<div style="left:264.10px;top:597.70px;width:28.60px;height:23.50px;background:#ffffff"></div>
<div style="left:292.70px;top:597.70px;width:27.30px;height:23.50px;background:#00b0f0"></div>
<div class="t" style="left:292.70px;top:597.70px;width:27.30px;height:23.50px;line-height:23.50px;font-size:12.5px;font-weight:bold;color:#fff;transform:scaleX(0.82)">H</div>
<div style="left:263.60px;top:550.30px;width:1.00px;height:70.90px;border-left:1px dotted #cdcdcd"></div>
<div style="left:292.20px;top:550.30px;width:1.00px;height:70.90px;border-left:1px dotted #cdcdcd"></div>
<div style="left:236.50px;top:573.40px;width:83.50px;height:1.00px;border-top:1px dotted #cdcdcd"></div>
<div style="left:236.50px;top:597.20px;width:83.50px;height:1.00px;border-top:1px dotted #cdcdcd"></div>
<div class="t" style="left:321.00px;top:522.50px;width:85.50px;height:26.30px;line-height:26.30px;font-size:20px;color:#111;-webkit-text-stroke:0.45px #111">10</div>
<div style="left:322.00px;top:550.30px;width:27.60px;height:23.60px;background:#ffff00"></div>
<div class="t" style="left:322.00px;top:550.30px;width:27.60px;height:23.60px;line-height:23.60px;font-size:12.5px;color:#000;-webkit-text-stroke:0.25px #000">J</div>
<div style="left:349.60px;top:550.30px;width:28.60px;height:23.60px;background:#ffffff"></div>
<div style="left:378.20px;top:550.30px;width:27.30px;height:23.60px;background:#ffffff"></div>
<div style="left:322.00px;top:573.90px;width:27.60px;height:23.80px;background:#f0f0f0"></div>
<div style="left:349.60px;top:573.90px;width:28.60px;height:23.80px;background:#f0f0f0"></div>
<div style="left:378.20px;top:573.90px;width:27.30px;height:23.80px;background:#f0f0f0"></div>
<div style="left:322.00px;top:597.70px;width:27.60px;height:23.50px;background:#ffff00"></div>
<div class="t" style="left:322.00px;top:597.70px;width:27.60px;height:23.50px;line-height:23.50px;font-size:12.5px;color:#000;-webkit-text-stroke:0.25px #000">J</div>
<div style="left:349.60px;top:597.70px;width:28.60px;height:23.50px;background:#ffffff"></div>
<div style="left:378.20px;top:597.70px;width:27.30px;height:23.50px;background:#00b0f0"></div>
<div class="t" style="left:378.20px;top:597.70px;width:27.30px;height:23.50px;line-height:23.50px;font-size:12.5px;font-weight:bold;color:#fff;transform:scaleX(0.82)">H</div>
<div style="left:349.10px;top:550.30px;width:1.00px;height:70.90px;border-left:1px dotted #cdcdcd"></div>
<div style="left:377.70px;top:550.30px;width:1.00px;height:70.90px;border-left:1px dotted #cdcdcd"></div>
<div style="left:322.00px;top:573.40px;width:83.50px;height:1.00px;border-top:1px dotted #cdcdcd"></div>
<div style="left:322.00px;top:597.20px;width:83.50px;height:1.00px;border-top:1px dotted #cdcdcd"></div>
<div class="t" style="left:406.50px;top:522.50px;width:85.50px;height:26.30px;line-height:26.30px;font-size:20px;color:#111;-webkit-text-stroke:0.45px #111">11</div>
<div style="left:407.50px;top:550.30px;width:27.60px;height:23.60px;background:#ffffff"></div>
<div style="left:435.10px;top:550.30px;width:28.60px;height:23.60px;background:#ffffff"></div>
<div style="left:463.70px;top:550.30px;width:27.30px;height:23.60px;background:#00b0f0"></div>
<div class="t" style="left:463.70px;top:550.30px;width:27.30px;height:23.60px;line-height:23.60px;font-size:12.5px;font-weight:bold;color:#fff;transform:scaleX(0.82)">H</div>
<div style="left:407.50px;top:573.90px;width:27.60px;height:23.80px;background:#f0f0f0"></div>
<div style="left:435.10px;top:573.90px;width:28.60px;height:23.80px;background:#f0f0f0"></div>
<div style="left:463.70px;top:573.90px;width:27.30px;height:23.80px;background:#f0f0f0"></div>
<div style="left:407.50px;top:597.70px;width:27.60px;height:23.50px;background:#ffff00"></div>
<div class="t" style="left:407.50px;top:597.70px;width:27.60px;height:23.50px;line-height:23.50px;font-size:12.5px;color:#000;-webkit-text-stroke:0.25px #000">J</div>
<div style="left:435.10px;top:597.70px;width:28.60px;height:23.50px;background:#ffffff"></div>
<div style="left:463.70px;top:597.70px;width:27.30px;height:23.50px;background:#00b0f0"></div>
<div class="t" style="left:463.70px;top:597.70px;width:27.30px;height:23.50px;line-height:23.50px;font-size:12.5px;font-weight:bold;color:#fff;transform:scaleX(0.82)">H</div>
<div style="left:434.60px;top:550.30px;width:1.00px;height:70.90px;border-left:1px dotted #cdcdcd"></div>
<div style="left:463.20px;top:550.30px;width:1.00px;height:70.90px;border-left:1px dotted #cdcdcd"></div>
<div style="left:407.50px;top:573.40px;width:83.50px;height:1.00px;border-top:1px dotted #cdcdcd"></div>
<div style="left:407.50px;top:597.20px;width:83.50px;height:1.00px;border-top:1px dotted #cdcdcd"></div>
<div class="t" style="left:492.00px;top:522.50px;width:85.50px;height:26.30px;line-height:26.30px;font-size:20px;color:#111;-webkit-text-stroke:0.45px #111">12</div>
<div style="left:493.00px;top:550.30px;width:27.60px;height:23.60px;background:#ffff00"></div>
<div class="t" style="left:493.00px;top:550.30px;width:27.60px;height:23.60px;line-height:23.60px;font-size:12.5px;color:#000;-webkit-text-stroke:0.25px #000">J</div>
<div style="left:520.60px;top:550.30px;width:28.60px;height:23.60px;background:#ffffff"></div>
<div style="left:549.20px;top:550.30px;width:27.30px;height:23.60px;background:#ffffff"></div>
<div style="left:493.00px;top:573.90px;width:27.60px;height:23.80px;background:#f0f0f0"></div>
<div style="left:520.60px;top:573.90px;width:28.60px;height:23.80px;background:#f0f0f0"></div>
<div style="left:549.20px;top:573.90px;width:27.30px;height:23.80px;background:#f0f0f0"></div>
<div style="left:493.00px;top:597.70px;width:27.60px;height:23.50px;background:#ffff00"></div>
<div class="t" style="left:493.00px;top:597.70px;width:27.60px;height:23.50px;line-height:23.50px;font-size:12.5px;color:#000;-webkit-text-stroke:0.25px #000">J</div>
<div style="left:520.60px;top:597.70px;width:28.60px;height:23.50px;background:#ffffff"></div>
<div style="left:549.20px;top:597.70px;width:27.30px;height:23.50px;background:#00b0f0"></div>
<div class="t" style="left:549.20px;top:597.70px;width:27.30px;height:23.50px;line-height:23.50px;font-size:12.5px;font-weight:bold;color:#fff;transform:scaleX(0.82)">H</div>
<div style="left:520.10px;top:550.30px;width:1.00px;height:70.90px;border-left:1px dotted #cdcdcd"></div>
<div style="left:548.70px;top:550.30px;width:1.00px;height:70.90px;border-left:1px dotted #cdcdcd"></div>
<div style="left:493.00px;top:573.40px;width:83.50px;height:1.00px;border-top:1px dotted #cdcdcd"></div>
<div style="left:493.00px;top:597.20px;width:83.50px;height:1.00px;border-top:1px dotted #cdcdcd"></div>
<div class="t" style="left:577.50px;top:522.50px;width:85.50px;height:26.30px;line-height:26.30px;font-size:20px;color:#111;-webkit-text-stroke:0.45px #111">13</div>
<div style="left:578.50px;top:550.30px;width:27.60px;height:23.60px;background:#ffffff"></div>
<div style="left:606.10px;top:550.30px;width:28.60px;height:23.60px;background:#ffffff"></div>
<div style="left:634.70px;top:550.30px;width:27.30px;height:23.60px;background:#00b0f0"></div>
<div class="t" style="left:634.70px;top:550.30px;width:27.30px;height:23.60px;line-height:23.60px;font-size:12.5px;font-weight:bold;color:#fff;transform:scaleX(0.82)">H</div>
<div style="left:578.50px;top:573.90px;width:27.60px;height:23.80px;background:#f0f0f0"></div>
<div style="left:606.10px;top:573.90px;width:28.60px;height:23.80px;background:#f0f0f0"></div>
<div style="left:634.70px;top:573.90px;width:27.30px;height:23.80px;background:#f0f0f0"></div>
<div style="left:578.50px;top:597.70px;width:27.60px;height:23.50px;background:#ffff00"></div>
<div class="t" style="left:578.50px;top:597.70px;width:27.60px;height:23.50px;line-height:23.50px;font-size:12.5px;color:#000;-webkit-text-stroke:0.25px #000">J</div>
<div style="left:606.10px;top:597.70px;width:28.60px;height:23.50px;background:#ffffff"></div>
<div style="left:634.70px;top:597.70px;width:27.30px;height:23.50px;background:#00b0f0"></div>
<div class="t" style="left:634.70px;top:597.70px;width:27.30px;height:23.50px;line-height:23.50px;font-size:12.5px;font-weight:bold;color:#fff;transform:scaleX(0.82)">H</div>
<div style="left:605.60px;top:550.30px;width:1.00px;height:70.90px;border-left:1px dotted #cdcdcd"></div>
<div style="left:634.20px;top:550.30px;width:1.00px;height:70.90px;border-left:1px dotted #cdcdcd"></div>
<div style="left:578.50px;top:573.40px;width:83.50px;height:1.00px;border-top:1px dotted #cdcdcd"></div>
<div style="left:578.50px;top:597.20px;width:83.50px;height:1.00px;border-top:1px dotted #cdcdcd"></div>
<div class="t" style="left:663.00px;top:522.50px;width:85.50px;height:26.30px;line-height:26.30px;font-size:20px;color:#111;-webkit-text-stroke:0.45px #111">14</div>
<div style="left:664.00px;top:550.30px;width:27.60px;height:23.60px;background:#ffff00"></div>
<div class="t" style="left:664.00px;top:550.30px;width:27.60px;height:23.60px;line-height:23.60px;font-size:12.5px;color:#000;-webkit-text-stroke:0.25px #000">J</div>
<div style="left:691.60px;top:550.30px;width:28.60px;height:23.60px;background:#ffffff"></div>
<div style="left:720.20px;top:550.30px;width:27.30px;height:23.60px;background:#00b0f0"></div>
<div class="t" style="left:720.20px;top:550.30px;width:27.30px;height:23.60px;line-height:23.60px;font-size:12.5px;font-weight:bold;color:#fff;transform:scaleX(0.82)">H</div>
<div style="left:664.00px;top:573.90px;width:27.60px;height:23.80px;background:#f0f0f0"></div>
<div style="left:691.60px;top:573.90px;width:28.60px;height:23.80px;background:#f0f0f0"></div>
<div style="left:720.20px;top:573.90px;width:27.30px;height:23.80px;background:#f0f0f0"></div>
<div style="left:664.00px;top:597.70px;width:27.60px;height:23.50px;background:#f0f0f0"></div>
<div style="left:691.60px;top:597.70px;width:28.60px;height:23.50px;background:#f0f0f0"></div>
<div style="left:720.20px;top:597.70px;width:27.30px;height:23.50px;background:#f0f0f0"></div>
<div style="left:691.10px;top:550.30px;width:1.00px;height:70.90px;border-left:1px dotted #cdcdcd"></div>
<div style="left:719.70px;top:550.30px;width:1.00px;height:70.90px;border-left:1px dotted #cdcdcd"></div>
<div style="left:664.00px;top:573.40px;width:83.50px;height:1.00px;border-top:1px dotted #cdcdcd"></div>
<div style="left:664.00px;top:597.20px;width:83.50px;height:1.00px;border-top:1px dotted #cdcdcd"></div>
<div class="t" style="left:748.50px;top:522.50px;width:85.50px;height:26.30px;line-height:26.30px;font-size:20px;color:#ff0000;-webkit-text-stroke:0.45px #ff0000">15</div>
<div style="left:749.50px;top:550.30px;width:27.60px;height:23.60px;background:#f0f0f0"></div>
<div style="left:777.10px;top:550.30px;width:28.60px;height:23.60px;background:#f0f0f0"></div>
<div style="left:805.70px;top:550.30px;width:23.30px;height:23.60px;background:#f0f0f0"></div>
<div style="left:749.50px;top:573.90px;width:27.60px;height:23.80px;background:#f0f0f0"></div>
<div style="left:777.10px;top:573.90px;width:28.60px;height:23.80px;background:#f0f0f0"></div>
<div style="left:805.70px;top:573.90px;width:23.30px;height:23.80px;background:#f0f0f0"></div>
<div style="left:749.50px;top:597.70px;width:27.60px;height:23.50px;background:#f0f0f0"></div>
<div style="left:777.10px;top:597.70px;width:28.60px;height:23.50px;background:#f0f0f0"></div>
<div style="left:805.70px;top:597.70px;width:23.30px;height:23.50px;background:#f0f0f0"></div>
<div style="left:776.60px;top:550.30px;width:1.00px;height:70.90px;border-left:1px dotted #cdcdcd"></div>
<div style="left:805.20px;top:550.30px;width:1.00px;height:70.90px;border-left:1px dotted #cdcdcd"></div>
<div style="left:749.50px;top:573.40px;width:79.50px;height:1.00px;border-top:1px dotted #cdcdcd"></div>
<div style="left:749.50px;top:597.20px;width:79.50px;height:1.00px;border-top:1px dotted #cdcdcd"></div>
<div style="left:235.50px;top:549.55px;width:594.50px;height:1.50px;background:#262626"></div>
<div style="left:20.00px;top:620.45px;width:215.50px;height:1.50px;background:#3f74b0"></div>
<div style="left:235.50px;top:620.20px;width:594.50px;height:2.00px;background:#111"></div>
<div style="left:99.00px;top:672.40px;width:136.50px;height:24.20px;background:#f2f2f2"></div>
<div style="left:20.00px;top:648.00px;width:215.50px;height:1.00px;border-top:1px dotted #cdcdcd"></div>
<div style="left:99.00px;top:671.90px;width:136.50px;height:1.00px;border-top:1px dotted #cdcdcd"></div>
<div style="left:99.00px;top:696.10px;width:136.50px;height:1.00px;border-top:1px dotted #cdcdcd"></div>
<div style="left:98.50px;top:648.50px;width:1.00px;height:71.40px;border-left:1px dotted #cdcdcd"></div>
<div style="left:141.20px;top:648.50px;width:1.00px;height:71.40px;border-left:1px dotted #cdcdcd"></div>
<div class="t" style="left:20.00px;top:647.50px;width:79.00px;height:71.40px;line-height:71.40px;font-size:12px;font-weight:bold;color:#111;letter-spacing:-0.5px">넷패주</div>
<div class="t" style="left:99.00px;top:648.50px;width:42.70px;height:23.90px;line-height:23.90px;font-size:13px;color:#111;-webkit-text-stroke:0.35px #111;letter-spacing:-0.5px">오전</div>
<div class="t" style="left:141.70px;top:648.50px;width:93.80px;height:23.90px;line-height:23.90px;font-size:14px;color:#111;-webkit-text-stroke:0.2px #111;transform:scaleX(0.93)">08:30~12:30</div>
<div class="t" style="left:99.00px;top:672.40px;width:42.70px;height:24.20px;line-height:24.20px;font-size:13px;color:#111;-webkit-text-stroke:0.35px #111;letter-spacing:-0.5px">점심</div>
<div class="t" style="left:141.70px;top:672.40px;width:93.80px;height:24.20px;line-height:24.20px;font-size:14px;color:#111;-webkit-text-stroke:0.2px #111;transform:scaleX(0.93)">12:30~14:00</div>
<div class="t" style="left:99.00px;top:696.60px;width:42.70px;height:23.30px;line-height:23.30px;font-size:13px;color:#111;-webkit-text-stroke:0.35px #111;letter-spacing:-0.5px">오후</div>
<div class="t" style="left:141.70px;top:696.60px;width:93.80px;height:23.30px;line-height:23.30px;font-size:14px;color:#111;-webkit-text-stroke:0.2px #111;transform:scaleX(0.93)">14:00~19:00</div>
<div class="t" style="left:235.50px;top:620.70px;width:85.50px;height:26.30px;line-height:26.30px;font-size:20px;color:#111;-webkit-text-stroke:0.45px #111">16</div>
<div style="left:236.50px;top:648.50px;width:27.60px;height:23.90px;background:#ffff00"></div>
<div class="t" style="left:236.50px;top:648.50px;width:27.60px;height:23.90px;line-height:23.90px;font-size:12.5px;color:#000;-webkit-text-stroke:0.25px #000">J</div>
<div style="left:264.10px;top:648.50px;width:28.60px;height:23.90px;background:#ffffff"></div>
<div style="left:292.70px;top:648.50px;width:27.30px;height:23.90px;background:#00b0f0"></div>
<div class="t" style="left:292.70px;top:648.50px;width:27.30px;height:23.90px;line-height:23.90px;font-size:12.5px;font-weight:bold;color:#fff;transform:scaleX(0.82)">H</div>
<div style="left:236.50px;top:672.40px;width:27.60px;height:24.20px;background:#f0f0f0"></div>
<div style="left:264.10px;top:672.40px;width:28.60px;height:24.20px;background:#f0f0f0"></div>
<div style="left:292.70px;top:672.40px;width:27.30px;height:24.20px;background:#f0f0f0"></div>
<div style="left:236.50px;top:696.60px;width:27.60px;height:23.30px;background:#ffff00"></div>
<div class="t" style="left:236.50px;top:696.60px;width:27.60px;height:23.30px;line-height:23.30px;font-size:12.5px;color:#000;-webkit-text-stroke:0.25px #000">J</div>
<div style="left:264.10px;top:696.60px;width:28.60px;height:23.30px;background:#ffffff"></div>
<div style="left:292.70px;top:696.60px;width:27.30px;height:23.30px;background:#00b0f0"></div>
<div class="t" style="left:292.70px;top:696.60px;width:27.30px;height:23.30px;line-height:23.30px;font-size:12.5px;font-weight:bold;color:#fff;transform:scaleX(0.82)">H</div>
<div style="left:263.60px;top:648.50px;width:1.00px;height:71.40px;border-left:1px dotted #cdcdcd"></div>
<div style="left:292.20px;top:648.50px;width:1.00px;height:71.40px;border-left:1px dotted #cdcdcd"></div>
<div style="left:236.50px;top:671.90px;width:83.50px;height:1.00px;border-top:1px dotted #cdcdcd"></div>
<div style="left:236.50px;top:696.10px;width:83.50px;height:1.00px;border-top:1px dotted #cdcdcd"></div>
<div class="t" style="left:321.00px;top:620.70px;width:85.50px;height:26.30px;line-height:26.30px;font-size:20px;color:#111;-webkit-text-stroke:0.45px #111">17</div>
<div style="left:322.00px;top:648.50px;width:27.60px;height:23.90px;background:#ffff00"></div>
<div class="t" style="left:322.00px;top:648.50px;width:27.60px;height:23.90px;line-height:23.90px;font-size:12.5px;color:#000;-webkit-text-stroke:0.25px #000">J</div>
<div style="left:349.60px;top:648.50px;width:28.60px;height:23.90px;background:#ffffff"></div>
<div style="left:378.20px;top:648.50px;width:27.30px;height:23.90px;background:#ffffff"></div>
<div style="left:322.00px;top:672.40px;width:27.60px;height:24.20px;background:#f0f0f0"></div>
<div style="left:349.60px;top:672.40px;width:28.60px;height:24.20px;background:#f0f0f0"></div>
<div style="left:378.20px;top:672.40px;width:27.30px;height:24.20px;background:#f0f0f0"></div>
<div style="left:322.00px;top:696.60px;width:27.60px;height:23.30px;background:#ffff00"></div>
<div class="t" style="left:322.00px;top:696.60px;width:27.60px;height:23.30px;line-height:23.30px;font-size:12.5px;color:#000;-webkit-text-stroke:0.25px #000">J</div>
<div style="left:349.60px;top:696.60px;width:28.60px;height:23.30px;background:#ffffff"></div>
<div style="left:378.20px;top:696.60px;width:27.30px;height:23.30px;background:#00b0f0"></div>
<div class="t" style="left:378.20px;top:696.60px;width:27.30px;height:23.30px;line-height:23.30px;font-size:12.5px;font-weight:bold;color:#fff;transform:scaleX(0.82)">H</div>
<div style="left:349.10px;top:648.50px;width:1.00px;height:71.40px;border-left:1px dotted #cdcdcd"></div>
<div style="left:377.70px;top:648.50px;width:1.00px;height:71.40px;border-left:1px dotted #cdcdcd"></div>
<div style="left:322.00px;top:671.90px;width:83.50px;height:1.00px;border-top:1px dotted #cdcdcd"></div>
<div style="left:322.00px;top:696.10px;width:83.50px;height:1.00px;border-top:1px dotted #cdcdcd"></div>
<div class="t" style="left:406.50px;top:620.70px;width:85.50px;height:26.30px;line-height:26.30px;font-size:20px;color:#111;-webkit-text-stroke:0.45px #111">18</div>
<div style="left:407.50px;top:648.50px;width:27.60px;height:23.90px;background:#ffffff"></div>
<div style="left:435.10px;top:648.50px;width:28.60px;height:23.90px;background:#ffffff"></div>
<div style="left:463.70px;top:648.50px;width:27.30px;height:23.90px;background:#00b0f0"></div>
<div class="t" style="left:463.70px;top:648.50px;width:27.30px;height:23.90px;line-height:23.90px;font-size:12.5px;font-weight:bold;color:#fff;transform:scaleX(0.82)">H</div>
<div style="left:407.50px;top:672.40px;width:27.60px;height:24.20px;background:#f0f0f0"></div>
<div style="left:435.10px;top:672.40px;width:28.60px;height:24.20px;background:#f0f0f0"></div>
<div style="left:463.70px;top:672.40px;width:27.30px;height:24.20px;background:#f0f0f0"></div>
<div style="left:407.50px;top:696.60px;width:27.60px;height:23.30px;background:#ffff00"></div>
<div class="t" style="left:407.50px;top:696.60px;width:27.60px;height:23.30px;line-height:23.30px;font-size:12.5px;color:#000;-webkit-text-stroke:0.25px #000">J</div>
<div style="left:435.10px;top:696.60px;width:28.60px;height:23.30px;background:#ffffff"></div>
<div style="left:463.70px;top:696.60px;width:27.30px;height:23.30px;background:#00b0f0"></div>
<div class="t" style="left:463.70px;top:696.60px;width:27.30px;height:23.30px;line-height:23.30px;font-size:12.5px;font-weight:bold;color:#fff;transform:scaleX(0.82)">H</div>
<div style="left:434.60px;top:648.50px;width:1.00px;height:71.40px;border-left:1px dotted #cdcdcd"></div>
<div style="left:463.20px;top:648.50px;width:1.00px;height:71.40px;border-left:1px dotted #cdcdcd"></div>
<div style="left:407.50px;top:671.90px;width:83.50px;height:1.00px;border-top:1px dotted #cdcdcd"></div>
<div style="left:407.50px;top:696.10px;width:83.50px;height:1.00px;border-top:1px dotted #cdcdcd"></div>
<div class="t" style="left:492.00px;top:620.70px;width:85.50px;height:26.30px;line-height:26.30px;font-size:20px;color:#111;-webkit-text-stroke:0.45px #111">19</div>
<div style="left:493.00px;top:648.50px;width:27.60px;height:23.90px;background:#ffff00"></div>
<div class="t" style="left:493.00px;top:648.50px;width:27.60px;height:23.90px;line-height:23.90px;font-size:12.5px;color:#000;-webkit-text-stroke:0.25px #000">J</div>
<div style="left:520.60px;top:648.50px;width:28.60px;height:23.90px;background:#ffffff"></div>
<div style="left:549.20px;top:648.50px;width:27.30px;height:23.90px;background:#ffffff"></div>
<div style="left:493.00px;top:672.40px;width:27.60px;height:24.20px;background:#f0f0f0"></div>
<div style="left:520.60px;top:672.40px;width:28.60px;height:24.20px;background:#f0f0f0"></div>
<div style="left:549.20px;top:672.40px;width:27.30px;height:24.20px;background:#f0f0f0"></div>
<div style="left:493.00px;top:696.60px;width:27.60px;height:23.30px;background:#ffff00"></div>
<div class="t" style="left:493.00px;top:696.60px;width:27.60px;height:23.30px;line-height:23.30px;font-size:12.5px;color:#000;-webkit-text-stroke:0.25px #000">J</div>
<div style="left:520.60px;top:696.60px;width:28.60px;height:23.30px;background:#ffffff"></div>
<div style="left:549.20px;top:696.60px;width:27.30px;height:23.30px;background:#00b0f0"></div>
<div class="t" style="left:549.20px;top:696.60px;width:27.30px;height:23.30px;line-height:23.30px;font-size:12.5px;font-weight:bold;color:#fff;transform:scaleX(0.82)">H</div>
<div style="left:520.10px;top:648.50px;width:1.00px;height:71.40px;border-left:1px dotted #cdcdcd"></div>
<div style="left:548.70px;top:648.50px;width:1.00px;height:71.40px;border-left:1px dotted #cdcdcd"></div>
<div style="left:493.00px;top:671.90px;width:83.50px;height:1.00px;border-top:1px dotted #cdcdcd"></div>
<div style="left:493.00px;top:696.10px;width:83.50px;height:1.00px;border-top:1px dotted #cdcdcd"></div>
<div class="t" style="left:577.50px;top:620.70px;width:85.50px;height:26.30px;line-height:26.30px;font-size:20px;color:#111;-webkit-text-stroke:0.45px #111">20</div>
<div style="left:578.50px;top:648.50px;width:27.60px;height:23.90px;background:#ffffff"></div>
<div style="left:606.10px;top:648.50px;width:28.60px;height:23.90px;background:#ffffff"></div>
<div style="left:634.70px;top:648.50px;width:27.30px;height:23.90px;background:#00b0f0"></div>
<div class="t" style="left:634.70px;top:648.50px;width:27.30px;height:23.90px;line-height:23.90px;font-size:12.5px;font-weight:bold;color:#fff;transform:scaleX(0.82)">H</div>
<div style="left:578.50px;top:672.40px;width:27.60px;height:24.20px;background:#f0f0f0"></div>
<div style="left:606.10px;top:672.40px;width:28.60px;height:24.20px;background:#f0f0f0"></div>
<div style="left:634.70px;top:672.40px;width:27.30px;height:24.20px;background:#f0f0f0"></div>
<div style="left:578.50px;top:696.60px;width:27.60px;height:23.30px;background:#ffff00"></div>
<div class="t" style="left:578.50px;top:696.60px;width:27.60px;height:23.30px;line-height:23.30px;font-size:12.5px;color:#000;-webkit-text-stroke:0.25px #000">J</div>
<div style="left:606.10px;top:696.60px;width:28.60px;height:23.30px;background:#ffffff"></div>
<div style="left:634.70px;top:696.60px;width:27.30px;height:23.30px;background:#00b0f0"></div>
<div class="t" style="left:634.70px;top:696.60px;width:27.30px;height:23.30px;line-height:23.30px;font-size:12.5px;font-weight:bold;color:#fff;transform:scaleX(0.82)">H</div>
<div style="left:605.60px;top:648.50px;width:1.00px;height:71.40px;border-left:1px dotted #cdcdcd"></div>
<div style="left:634.20px;top:648.50px;width:1.00px;height:71.40px;border-left:1px dotted #cdcdcd"></div>
<div style="left:578.50px;top:671.90px;width:83.50px;height:1.00px;border-top:1px dotted #cdcdcd"></div>
<div style="left:578.50px;top:696.10px;width:83.50px;height:1.00px;border-top:1px dotted #cdcdcd"></div>
<div class="t" style="left:663.00px;top:620.70px;width:85.50px;height:26.30px;line-height:26.30px;font-size:20px;color:#111;-webkit-text-stroke:0.45px #111">21</div>
<div style="left:664.00px;top:648.50px;width:27.60px;height:23.90px;background:#ffff00"></div>
<div class="t" style="left:664.00px;top:648.50px;width:27.60px;height:23.90px;line-height:23.90px;font-size:12.5px;color:#000;-webkit-text-stroke:0.25px #000">J</div>
<div style="left:691.60px;top:648.50px;width:28.60px;height:23.90px;background:#ffffff"></div>
<div style="left:720.20px;top:648.50px;width:27.30px;height:23.90px;background:#00b0f0"></div>
<div class="t" style="left:720.20px;top:648.50px;width:27.30px;height:23.90px;line-height:23.90px;font-size:12.5px;font-weight:bold;color:#fff;transform:scaleX(0.82)">H</div>
<div style="left:664.00px;top:672.40px;width:27.60px;height:24.20px;background:#f0f0f0"></div>
<div style="left:691.60px;top:672.40px;width:28.60px;height:24.20px;background:#f0f0f0"></div>
<div style="left:720.20px;top:672.40px;width:27.30px;height:24.20px;background:#f0f0f0"></div>
<div style="left:664.00px;top:696.60px;width:27.60px;height:23.30px;background:#f0f0f0"></div>
<div style="left:691.60px;top:696.60px;width:28.60px;height:23.30px;background:#f0f0f0"></div>
<div style="left:720.20px;top:696.60px;width:27.30px;height:23.30px;background:#f0f0f0"></div>
<div style="left:691.10px;top:648.50px;width:1.00px;height:71.40px;border-left:1px dotted #cdcdcd"></div>
<div style="left:719.70px;top:648.50px;width:1.00px;height:71.40px;border-left:1px dotted #cdcdcd"></div>
<div style="left:664.00px;top:671.90px;width:83.50px;height:1.00px;border-top:1px dotted #cdcdcd"></div>
<div style="left:664.00px;top:696.10px;width:83.50px;height:1.00px;border-top:1px dotted #cdcdcd"></div>
<div class="t" style="left:748.50px;top:620.70px;width:85.50px;height:26.30px;line-height:26.30px;font-size:20px;color:#ff0000;-webkit-text-stroke:0.45px #ff0000">22</div>
<div style="left:749.50px;top:648.50px;width:27.60px;height:23.90px;background:#f0f0f0"></div>
<div style="left:777.10px;top:648.50px;width:28.60px;height:23.90px;background:#f0f0f0"></div>
<div style="left:805.70px;top:648.50px;width:23.30px;height:23.90px;background:#f0f0f0"></div>
<div style="left:749.50px;top:672.40px;width:27.60px;height:24.20px;background:#f0f0f0"></div>
<div style="left:777.10px;top:672.40px;width:28.60px;height:24.20px;background:#f0f0f0"></div>
<div style="left:805.70px;top:672.40px;width:23.30px;height:24.20px;background:#f0f0f0"></div>
<div style="left:749.50px;top:696.60px;width:27.60px;height:23.30px;background:#f0f0f0"></div>
<div style="left:777.10px;top:696.60px;width:28.60px;height:23.30px;background:#f0f0f0"></div>
<div style="left:805.70px;top:696.60px;width:23.30px;height:23.30px;background:#f0f0f0"></div>
<div style="left:776.60px;top:648.50px;width:1.00px;height:71.40px;border-left:1px dotted #cdcdcd"></div>
<div style="left:805.20px;top:648.50px;width:1.00px;height:71.40px;border-left:1px dotted #cdcdcd"></div>
<div style="left:749.50px;top:671.90px;width:79.50px;height:1.00px;border-top:1px dotted #cdcdcd"></div>
<div style="left:749.50px;top:696.10px;width:79.50px;height:1.00px;border-top:1px dotted #cdcdcd"></div>
<div style="left:235.50px;top:647.75px;width:594.50px;height:1.50px;background:#262626"></div>
<div style="left:20.00px;top:719.15px;width:215.50px;height:1.50px;background:#3f74b0"></div>
<div style="left:235.50px;top:718.90px;width:594.50px;height:2.00px;background:#111"></div>
<div style="left:99.00px;top:767.10px;width:136.50px;height:26.60px;background:#f2f2f2"></div>
<div style="left:20.00px;top:746.30px;width:215.50px;height:1.00px;border-top:1px dotted #cdcdcd"></div>
<div style="left:99.00px;top:766.60px;width:136.50px;height:1.00px;border-top:1px dotted #cdcdcd"></div>
<div style="left:99.00px;top:793.20px;width:136.50px;height:1.00px;border-top:1px dotted #cdcdcd"></div>
<div style="left:98.50px;top:746.80px;width:1.00px;height:67.50px;border-left:1px dotted #cdcdcd"></div>
<div style="left:141.20px;top:746.80px;width:1.00px;height:67.50px;border-left:1px dotted #cdcdcd"></div>
<div class="t" style="left:20.00px;top:745.80px;width:79.00px;height:67.50px;line-height:67.50px;font-size:12px;font-weight:bold;color:#111;letter-spacing:-0.5px">다섯패주</div>
<div class="t" style="left:99.00px;top:746.80px;width:42.70px;height:20.30px;line-height:20.30px;font-size:13px;color:#111;-webkit-text-stroke:0.35px #111;letter-spacing:-0.5px">오전</div>
<div class="t" style="left:141.70px;top:746.80px;width:93.80px;height:20.30px;line-height:20.30px;font-size:14px;color:#111;-webkit-text-stroke:0.2px #111;transform:scaleX(0.93)">08:30~12:30</div>
<div class="t" style="left:99.00px;top:767.10px;width:42.70px;height:26.60px;line-height:26.60px;font-size:13px;color:#111;-webkit-text-stroke:0.35px #111;letter-spacing:-0.5px">점심</div>
<div class="t" style="left:141.70px;top:767.10px;width:93.80px;height:26.60px;line-height:26.60px;font-size:14px;color:#111;-webkit-text-stroke:0.2px #111;transform:scaleX(0.93)">12:30~14:00</div>
<div class="t" style="left:99.00px;top:793.70px;width:42.70px;height:20.60px;line-height:20.60px;font-size:13px;color:#111;-webkit-text-stroke:0.35px #111;letter-spacing:-0.5px">오후</div>
<div class="t" style="left:141.70px;top:793.70px;width:93.80px;height:20.60px;line-height:20.60px;font-size:14px;color:#111;-webkit-text-stroke:0.2px #111;transform:scaleX(0.93)">14:00~19:00</div>
<div class="t" style="left:235.50px;top:719.40px;width:85.50px;height:25.90px;line-height:25.90px;font-size:20px;color:#111;-webkit-text-stroke:0.45px #111">23</div>
<div style="left:236.50px;top:746.80px;width:27.60px;height:20.30px;background:#ffff00"></div>
<div class="t" style="left:236.50px;top:746.80px;width:27.60px;height:20.30px;line-height:20.30px;font-size:12.5px;color:#000;-webkit-text-stroke:0.25px #000">J</div>
<div style="left:264.10px;top:746.80px;width:28.60px;height:20.30px;background:#ffffff"></div>
<div style="left:292.70px;top:746.80px;width:27.30px;height:20.30px;background:#00b0f0"></div>
<div class="t" style="left:292.70px;top:746.80px;width:27.30px;height:20.30px;line-height:20.30px;font-size:12.5px;font-weight:bold;color:#fff;transform:scaleX(0.82)">H</div>
<div style="left:236.50px;top:767.10px;width:27.60px;height:26.60px;background:#f0f0f0"></div>
<div style="left:264.10px;top:767.10px;width:28.60px;height:26.60px;background:#f0f0f0"></div>
<div style="left:292.70px;top:767.10px;width:27.30px;height:26.60px;background:#f0f0f0"></div>
<div style="left:236.50px;top:793.70px;width:27.60px;height:20.60px;background:#ffff00"></div>
<div class="t" style="left:236.50px;top:793.70px;width:27.60px;height:20.60px;line-height:20.60px;font-size:12.5px;color:#000;-webkit-text-stroke:0.25px #000">J</div>
<div style="left:264.10px;top:793.70px;width:28.60px;height:20.60px;background:#ffffff"></div>
<div style="left:292.70px;top:793.70px;width:27.30px;height:20.60px;background:#00b0f0"></div>
<div class="t" style="left:292.70px;top:793.70px;width:27.30px;height:20.60px;line-height:20.60px;font-size:12.5px;font-weight:bold;color:#fff;transform:scaleX(0.82)">H</div>
<div style="left:263.60px;top:746.80px;width:1.00px;height:67.50px;border-left:1px dotted #cdcdcd"></div>
<div style="left:292.20px;top:746.80px;width:1.00px;height:67.50px;border-left:1px dotted #cdcdcd"></div>
<div style="left:236.50px;top:766.60px;width:83.50px;height:1.00px;border-top:1px dotted #cdcdcd"></div>
<div style="left:236.50px;top:793.20px;width:83.50px;height:1.00px;border-top:1px dotted #cdcdcd"></div>
<div class="t" style="left:321.00px;top:719.40px;width:85.50px;height:25.90px;line-height:25.90px;font-size:20px;color:#111;-webkit-text-stroke:0.45px #111">24</div>
<div style="left:322.00px;top:746.80px;width:27.60px;height:20.30px;background:#ffff00"></div>
<div class="t" style="left:322.00px;top:746.80px;width:27.60px;height:20.30px;line-height:20.30px;font-size:12.5px;color:#000;-webkit-text-stroke:0.25px #000">J</div>
<div style="left:349.60px;top:746.80px;width:28.60px;height:20.30px;background:#ffffff"></div>
<div style="left:378.20px;top:746.80px;width:27.30px;height:20.30px;background:#ffffff"></div>
<div style="left:322.00px;top:767.10px;width:27.60px;height:26.60px;background:#f0f0f0"></div>
<div style="left:349.60px;top:767.10px;width:28.60px;height:26.60px;background:#f0f0f0"></div>
<div style="left:378.20px;top:767.10px;width:27.30px;height:26.60px;background:#f0f0f0"></div>
<div style="left:322.00px;top:793.70px;width:27.60px;height:20.60px;background:#ffff00"></div>
<div class="t" style="left:322.00px;top:793.70px;width:27.60px;height:20.60px;line-height:20.60px;font-size:12.5px;color:#000;-webkit-text-stroke:0.25px #000">J</div>
<div style="left:349.60px;top:793.70px;width:28.60px;height:20.60px;background:#ffffff"></div>
<div style="left:378.20px;top:793.70px;width:27.30px;height:20.60px;background:#00b0f0"></div>
<div class="t" style="left:378.20px;top:793.70px;width:27.30px;height:20.60px;line-height:20.60px;font-size:12.5px;font-weight:bold;color:#fff;transform:scaleX(0.82)">H</div>
<div style="left:349.10px;top:746.80px;width:1.00px;height:67.50px;border-left:1px dotted #cdcdcd"></div>
<div style="left:377.70px;top:746.80px;width:1.00px;height:67.50px;border-left:1px dotted #cdcdcd"></div>
<div style="left:322.00px;top:766.60px;width:83.50px;height:1.00px;border-top:1px dotted #cdcdcd"></div>
<div style="left:322.00px;top:793.20px;width:83.50px;height:1.00px;border-top:1px dotted #cdcdcd"></div>
<div class="t" style="left:406.50px;top:719.40px;width:85.50px;height:25.90px;line-height:25.90px;font-size:20px;color:#111;-webkit-text-stroke:0.45px #111">25</div>
<div style="left:407.50px;top:746.80px;width:27.60px;height:20.30px;background:#ffffff"></div>
<div style="left:435.10px;top:746.80px;width:28.60px;height:20.30px;background:#ffffff"></div>
<div style="left:463.70px;top:746.80px;width:27.30px;height:20.30px;background:#00b0f0"></div>
<div class="t" style="left:463.70px;top:746.80px;width:27.30px;height:20.30px;line-height:20.30px;font-size:12.5px;font-weight:bold;color:#fff;transform:scaleX(0.82)">H</div>
<div style="left:407.50px;top:767.10px;width:27.60px;height:26.60px;background:#f0f0f0"></div>
<div style="left:435.10px;top:767.10px;width:28.60px;height:26.60px;background:#f0f0f0"></div>
<div style="left:463.70px;top:767.10px;width:27.30px;height:26.60px;background:#f0f0f0"></div>
<div style="left:407.50px;top:793.70px;width:27.60px;height:20.60px;background:#ffff00"></div>
<div class="t" style="left:407.50px;top:793.70px;width:27.60px;height:20.60px;line-height:20.60px;font-size:12.5px;color:#000;-webkit-text-stroke:0.25px #000">J</div>
<div style="left:435.10px;top:793.70px;width:28.60px;height:20.60px;background:#ffffff"></div>
<div style="left:463.70px;top:793.70px;width:27.30px;height:20.60px;background:#00b0f0"></div>
<div class="t" style="left:463.70px;top:793.70px;width:27.30px;height:20.60px;line-height:20.60px;font-size:12.5px;font-weight:bold;color:#fff;transform:scaleX(0.82)">H</div>
<div style="left:434.60px;top:746.80px;width:1.00px;height:67.50px;border-left:1px dotted #cdcdcd"></div>
<div style="left:463.20px;top:746.80px;width:1.00px;height:67.50px;border-left:1px dotted #cdcdcd"></div>
<div style="left:407.50px;top:766.60px;width:83.50px;height:1.00px;border-top:1px dotted #cdcdcd"></div>
<div style="left:407.50px;top:793.20px;width:83.50px;height:1.00px;border-top:1px dotted #cdcdcd"></div>
<div class="t" style="left:492.00px;top:719.40px;width:85.50px;height:25.90px;line-height:25.90px;font-size:20px;color:#111;-webkit-text-stroke:0.45px #111">26</div>
<div style="left:493.00px;top:746.80px;width:27.60px;height:20.30px;background:#ffff00"></div>
<div class="t" style="left:493.00px;top:746.80px;width:27.60px;height:20.30px;line-height:20.30px;font-size:12.5px;color:#000;-webkit-text-stroke:0.25px #000">J</div>
<div style="left:520.60px;top:746.80px;width:28.60px;height:20.30px;background:#ffffff"></div>
<div style="left:549.20px;top:746.80px;width:27.30px;height:20.30px;background:#ffffff"></div>
<div style="left:493.00px;top:767.10px;width:27.60px;height:26.60px;background:#f0f0f0"></div>
<div style="left:520.60px;top:767.10px;width:28.60px;height:26.60px;background:#f0f0f0"></div>
<div style="left:549.20px;top:767.10px;width:27.30px;height:26.60px;background:#f0f0f0"></div>
<div style="left:493.00px;top:793.70px;width:27.60px;height:20.60px;background:#ffff00"></div>
<div class="t" style="left:493.00px;top:793.70px;width:27.60px;height:20.60px;line-height:20.60px;font-size:12.5px;color:#000;-webkit-text-stroke:0.25px #000">J</div>
<div style="left:520.60px;top:793.70px;width:28.60px;height:20.60px;background:#ffffff"></div>
<div style="left:549.20px;top:793.70px;width:27.30px;height:20.60px;background:#00b0f0"></div>
<div class="t" style="left:549.20px;top:793.70px;width:27.30px;height:20.60px;line-height:20.60px;font-size:12.5px;font-weight:bold;color:#fff;transform:scaleX(0.82)">H</div>
<div style="left:520.10px;top:746.80px;width:1.00px;height:67.50px;border-left:1px dotted #cdcdcd"></div>
<div style="left:548.70px;top:746.80px;width:1.00px;height:67.50px;border-left:1px dotted #cdcdcd"></div>
<div style="left:493.00px;top:766.60px;width:83.50px;height:1.00px;border-top:1px dotted #cdcdcd"></div>
<div style="left:493.00px;top:793.20px;width:83.50px;height:1.00px;border-top:1px dotted #cdcdcd"></div>
<div class="t" style="left:577.50px;top:719.40px;width:85.50px;height:25.90px;line-height:25.90px;font-size:20px;color:#111;-webkit-text-stroke:0.45px #111">27</div>
<div style="left:578.50px;top:746.80px;width:27.60px;height:20.30px;background:#ffffff"></div>
<div style="left:606.10px;top:746.80px;width:28.60px;height:20.30px;background:#ffffff"></div>
<div style="left:634.70px;top:746.80px;width:27.30px;height:20.30px;background:#00b0f0"></div>
<div class="t" style="left:634.70px;top:746.80px;width:27.30px;height:20.30px;line-height:20.30px;font-size:12.5px;font-weight:bold;color:#fff;transform:scaleX(0.82)">H</div>
<div style="left:578.50px;top:767.10px;width:27.60px;height:26.60px;background:#f0f0f0"></div>
<div style="left:606.10px;top:767.10px;width:28.60px;height:26.60px;background:#f0f0f0"></div>
<div style="left:634.70px;top:767.10px;width:27.30px;height:26.60px;background:#f0f0f0"></div>
<div style="left:578.50px;top:793.70px;width:27.60px;height:20.60px;background:#ffff00"></div>
<div class="t" style="left:578.50px;top:793.70px;width:27.60px;height:20.60px;line-height:20.60px;font-size:12.5px;color:#000;-webkit-text-stroke:0.25px #000">J</div>
<div style="left:606.10px;top:793.70px;width:28.60px;height:20.60px;background:#ffffff"></div>
<div style="left:634.70px;top:793.70px;width:27.30px;height:20.60px;background:#00b0f0"></div>
<div class="t" style="left:634.70px;top:793.70px;width:27.30px;height:20.60px;line-height:20.60px;font-size:12.5px;font-weight:bold;color:#fff;transform:scaleX(0.82)">H</div>
<div style="left:605.60px;top:746.80px;width:1.00px;height:67.50px;border-left:1px dotted #cdcdcd"></div>
<div style="left:634.20px;top:746.80px;width:1.00px;height:67.50px;border-left:1px dotted #cdcdcd"></div>
<div style="left:578.50px;top:766.60px;width:83.50px;height:1.00px;border-top:1px dotted #cdcdcd"></div>
<div style="left:578.50px;top:793.20px;width:83.50px;height:1.00px;border-top:1px dotted #cdcdcd"></div>
<div class="t" style="left:663.00px;top:719.40px;width:85.50px;height:25.90px;line-height:25.90px;font-size:20px;color:#111;-webkit-text-stroke:0.45px #111">28</div>
<div style="left:664.00px;top:746.80px;width:27.60px;height:20.30px;background:#ffff00"></div>
<div class="t" style="left:664.00px;top:746.80px;width:27.60px;height:20.30px;line-height:20.30px;font-size:12.5px;color:#000;-webkit-text-stroke:0.25px #000">J</div>
<div style="left:691.60px;top:746.80px;width:28.60px;height:20.30px;background:#ffffff"></div>
<div style="left:720.20px;top:746.80px;width:27.30px;height:20.30px;background:#00b0f0"></div>
<div class="t" style="left:720.20px;top:746.80px;width:27.30px;height:20.30px;line-height:20.30px;font-size:12.5px;font-weight:bold;color:#fff;transform:scaleX(0.82)">H</div>
<div style="left:664.00px;top:767.10px;width:27.60px;height:26.60px;background:#f0f0f0"></div>
<div style="left:691.60px;top:767.10px;width:28.60px;height:26.60px;background:#f0f0f0"></div>
<div style="left:720.20px;top:767.10px;width:27.30px;height:26.60px;background:#f0f0f0"></div>
<div style="left:664.00px;top:793.70px;width:27.60px;height:20.60px;background:#f0f0f0"></div>
<div style="left:691.60px;top:793.70px;width:28.60px;height:20.60px;background:#f0f0f0"></div>
<div style="left:720.20px;top:793.70px;width:27.30px;height:20.60px;background:#f0f0f0"></div>
<div style="left:691.10px;top:746.80px;width:1.00px;height:67.50px;border-left:1px dotted #cdcdcd"></div>
<div style="left:719.70px;top:746.80px;width:1.00px;height:67.50px;border-left:1px dotted #cdcdcd"></div>
<div style="left:664.00px;top:766.60px;width:83.50px;height:1.00px;border-top:1px dotted #cdcdcd"></div>
<div style="left:664.00px;top:793.20px;width:83.50px;height:1.00px;border-top:1px dotted #cdcdcd"></div>
<div class="t" style="left:748.50px;top:719.40px;width:85.50px;height:25.90px;line-height:25.90px;font-size:20px;color:#ff0000;-webkit-text-stroke:0.45px #ff0000">29</div>
<div style="left:749.50px;top:746.80px;width:27.60px;height:20.30px;background:#f0f0f0"></div>
<div style="left:777.10px;top:746.80px;width:28.60px;height:20.30px;background:#f0f0f0"></div>
<div style="left:805.70px;top:746.80px;width:23.30px;height:20.30px;background:#f0f0f0"></div>
<div style="left:749.50px;top:767.10px;width:27.60px;height:26.60px;background:#f0f0f0"></div>
<div style="left:777.10px;top:767.10px;width:28.60px;height:26.60px;background:#f0f0f0"></div>
<div style="left:805.70px;top:767.10px;width:23.30px;height:26.60px;background:#f0f0f0"></div>
<div style="left:749.50px;top:793.70px;width:27.60px;height:20.60px;background:#f0f0f0"></div>
<div style="left:777.10px;top:793.70px;width:28.60px;height:20.60px;background:#f0f0f0"></div>
<div style="left:805.70px;top:793.70px;width:23.30px;height:20.60px;background:#f0f0f0"></div>
<div style="left:776.60px;top:746.80px;width:1.00px;height:67.50px;border-left:1px dotted #cdcdcd"></div>
<div style="left:805.20px;top:746.80px;width:1.00px;height:67.50px;border-left:1px dotted #cdcdcd"></div>
<div style="left:749.50px;top:766.60px;width:79.50px;height:1.00px;border-top:1px dotted #cdcdcd"></div>
<div style="left:749.50px;top:793.20px;width:79.50px;height:1.00px;border-top:1px dotted #cdcdcd"></div>
<div style="left:235.50px;top:746.05px;width:594.50px;height:1.50px;background:#262626"></div>
<div style="left:20.00px;top:813.55px;width:215.50px;height:1.50px;background:#3f74b0"></div>
<div style="left:235.50px;top:813.30px;width:594.50px;height:2.00px;background:#111"></div>
<div style="left:99.00px;top:861.20px;width:136.50px;height:27.10px;background:#f2f2f2"></div>
<div style="left:20.00px;top:841.00px;width:215.50px;height:1.00px;border-top:1px dotted #cdcdcd"></div>
<div style="left:99.00px;top:860.70px;width:136.50px;height:1.00px;border-top:1px dotted #cdcdcd"></div>
<div style="left:99.00px;top:887.80px;width:136.50px;height:1.00px;border-top:1px dotted #cdcdcd"></div>
<div style="left:98.50px;top:841.50px;width:1.00px;height:67.00px;border-left:1px dotted #cdcdcd"></div>
<div style="left:141.20px;top:841.50px;width:1.00px;height:67.00px;border-left:1px dotted #cdcdcd"></div>
<div class="t" style="left:20.00px;top:840.50px;width:79.00px;height:67.00px;line-height:67.00px;font-size:12px;font-weight:bold;color:#111;letter-spacing:-0.5px">여섯패주</div>
<div class="t" style="left:99.00px;top:841.50px;width:42.70px;height:19.70px;line-height:19.70px;font-size:13px;color:#111;-webkit-text-stroke:0.35px #111;letter-spacing:-0.5px">오전</div>
<div class="t" style="left:141.70px;top:841.50px;width:93.80px;height:19.70px;line-height:19.70px;font-size:14px;color:#111;-webkit-text-stroke:0.2px #111;transform:scaleX(0.93)">08:30~12:30</div>
<div class="t" style="left:99.00px;top:861.20px;width:42.70px;height:27.10px;line-height:27.10px;font-size:13px;color:#111;-webkit-text-stroke:0.35px #111;letter-spacing:-0.5px">점심</div>
<div class="t" style="left:141.70px;top:861.20px;width:93.80px;height:27.10px;line-height:27.10px;font-size:14px;color:#111;-webkit-text-stroke:0.2px #111;transform:scaleX(0.93)">12:30~14:00</div>
<div class="t" style="left:99.00px;top:888.30px;width:42.70px;height:20.20px;line-height:20.20px;font-size:13px;color:#111;-webkit-text-stroke:0.35px #111;letter-spacing:-0.5px">오후</div>
<div class="t" style="left:141.70px;top:888.30px;width:93.80px;height:20.20px;line-height:20.20px;font-size:14px;color:#111;-webkit-text-stroke:0.2px #111;transform:scaleX(0.93)">14:00~19:00</div>
<div class="t" style="left:235.50px;top:813.80px;width:85.50px;height:26.20px;line-height:26.20px;font-size:20px;color:#111;-webkit-text-stroke:0.45px #111">30</div>
<div style="left:236.50px;top:841.50px;width:27.60px;height:19.70px;background:#ffff00"></div>
<div class="t" style="left:236.50px;top:841.50px;width:27.60px;height:19.70px;line-height:19.70px;font-size:12.5px;color:#000;-webkit-text-stroke:0.25px #000">J</div>
<div style="left:264.10px;top:841.50px;width:28.60px;height:19.70px;background:#ffffff"></div>
<div style="left:292.70px;top:841.50px;width:27.30px;height:19.70px;background:#00b0f0"></div>
<div class="t" style="left:292.70px;top:841.50px;width:27.30px;height:19.70px;line-height:19.70px;font-size:12.5px;font-weight:bold;color:#fff;transform:scaleX(0.82)">H</div>
<div style="left:236.50px;top:861.20px;width:27.60px;height:27.10px;background:#f0f0f0"></div>
<div style="left:264.10px;top:861.20px;width:28.60px;height:27.10px;background:#f0f0f0"></div>
<div style="left:292.70px;top:861.20px;width:27.30px;height:27.10px;background:#f0f0f0"></div>
<div style="left:236.50px;top:888.30px;width:27.60px;height:20.20px;background:#ffff00"></div>
<div class="t" style="left:236.50px;top:888.30px;width:27.60px;height:20.20px;line-height:20.20px;font-size:12.5px;color:#000;-webkit-text-stroke:0.25px #000">J</div>
<div style="left:264.10px;top:888.30px;width:28.60px;height:20.20px;background:#ffffff"></div>
<div style="left:292.70px;top:888.30px;width:27.30px;height:20.20px;background:#00b0f0"></div>
<div class="t" style="left:292.70px;top:888.30px;width:27.30px;height:20.20px;line-height:20.20px;font-size:12.5px;font-weight:bold;color:#fff;transform:scaleX(0.82)">H</div>
<div style="left:263.60px;top:841.50px;width:1.00px;height:67.00px;border-left:1px dotted #cdcdcd"></div>
<div style="left:292.20px;top:841.50px;width:1.00px;height:67.00px;border-left:1px dotted #cdcdcd"></div>
<div style="left:236.50px;top:860.70px;width:83.50px;height:1.00px;border-top:1px dotted #cdcdcd"></div>
<div style="left:236.50px;top:887.80px;width:83.50px;height:1.00px;border-top:1px dotted #cdcdcd"></div>
<div class="t" style="left:321.00px;top:813.80px;width:85.50px;height:26.20px;line-height:26.20px;font-size:20px;color:#111;-webkit-text-stroke:0.45px #111">3<span style="margin:0 1.2px">/</span>31</div>
<div style="left:322.00px;top:841.50px;width:27.60px;height:19.70px;background:#ffff00"></div>
<div class="t" style="left:322.00px;top:841.50px;width:27.60px;height:19.70px;line-height:19.70px;font-size:12.5px;color:#000;-webkit-text-stroke:0.25px #000">J</div>
<div style="left:349.60px;top:841.50px;width:28.60px;height:19.70px;background:#ffffff"></div>
<div style="left:378.20px;top:841.50px;width:27.30px;height:19.70px;background:#ffffff"></div>
<div style="left:322.00px;top:861.20px;width:27.60px;height:27.10px;background:#f0f0f0"></div>
<div style="left:349.60px;top:861.20px;width:28.60px;height:27.10px;background:#f0f0f0"></div>
<div style="left:378.20px;top:861.20px;width:27.30px;height:27.10px;background:#f0f0f0"></div>
<div style="left:322.00px;top:888.30px;width:27.60px;height:20.20px;background:#ffff00"></div>
<div class="t" style="left:322.00px;top:888.30px;width:27.60px;height:20.20px;line-height:20.20px;font-size:12.5px;color:#000;-webkit-text-stroke:0.25px #000">J</div>
<div style="left:349.60px;top:888.30px;width:28.60px;height:20.20px;background:#ffffff"></div>
<div style="left:378.20px;top:888.30px;width:27.30px;height:20.20px;background:#00b0f0"></div>
<div class="t" style="left:378.20px;top:888.30px;width:27.30px;height:20.20px;line-height:20.20px;font-size:12.5px;font-weight:bold;color:#fff;transform:scaleX(0.82)">H</div>
<div style="left:349.10px;top:841.50px;width:1.00px;height:67.00px;border-left:1px dotted #cdcdcd"></div>
<div style="left:377.70px;top:841.50px;width:1.00px;height:67.00px;border-left:1px dotted #cdcdcd"></div>
<div style="left:322.00px;top:860.70px;width:83.50px;height:1.00px;border-top:1px dotted #cdcdcd"></div>
<div style="left:322.00px;top:887.80px;width:83.50px;height:1.00px;border-top:1px dotted #cdcdcd"></div>
<div class="t" style="left:406.50px;top:813.80px;width:85.50px;height:26.20px;line-height:26.20px;font-size:20px;color:#111;-webkit-text-stroke:0.45px #111">4<span style="margin:0 1.2px">/</span>1</div>
<div style="left:407.50px;top:841.50px;width:27.60px;height:19.70px;background:#ffffff"></div>
<div style="left:435.10px;top:841.50px;width:28.60px;height:19.70px;background:#ffffff"></div>
<div style="left:463.70px;top:841.50px;width:27.30px;height:19.70px;background:#00b0f0"></div>
<div class="t" style="left:463.70px;top:841.50px;width:27.30px;height:19.70px;line-height:19.70px;font-size:12.5px;font-weight:bold;color:#fff;transform:scaleX(0.82)">H</div>
<div style="left:407.50px;top:861.20px;width:27.60px;height:27.10px;background:#f0f0f0"></div>
<div style="left:435.10px;top:861.20px;width:28.60px;height:27.10px;background:#f0f0f0"></div>
<div style="left:463.70px;top:861.20px;width:27.30px;height:27.10px;background:#f0f0f0"></div>
<div style="left:407.50px;top:888.30px;width:27.60px;height:20.20px;background:#ffff00"></div>
<div class="t" style="left:407.50px;top:888.30px;width:27.60px;height:20.20px;line-height:20.20px;font-size:12.5px;color:#000;-webkit-text-stroke:0.25px #000">J</div>
<div style="left:435.10px;top:888.30px;width:28.60px;height:20.20px;background:#ffffff"></div>
<div style="left:463.70px;top:888.30px;width:27.30px;height:20.20px;background:#00b0f0"></div>
<div class="t" style="left:463.70px;top:888.30px;width:27.30px;height:20.20px;line-height:20.20px;font-size:12.5px;font-weight:bold;color:#fff;transform:scaleX(0.82)">H</div>
<div style="left:434.60px;top:841.50px;width:1.00px;height:67.00px;border-left:1px dotted #cdcdcd"></div>
<div style="left:463.20px;top:841.50px;width:1.00px;height:67.00px;border-left:1px dotted #cdcdcd"></div>
<div style="left:407.50px;top:860.70px;width:83.50px;height:1.00px;border-top:1px dotted #cdcdcd"></div>
<div style="left:407.50px;top:887.80px;width:83.50px;height:1.00px;border-top:1px dotted #cdcdcd"></div>
<div class="t" style="left:492.00px;top:813.80px;width:85.50px;height:26.20px;line-height:26.20px;font-size:20px;color:#111;-webkit-text-stroke:0.45px #111">2</div>
<div style="left:493.00px;top:841.50px;width:27.60px;height:19.70px;background:#ffff00"></div>
<div class="t" style="left:493.00px;top:841.50px;width:27.60px;height:19.70px;line-height:19.70px;font-size:12.5px;color:#000;-webkit-text-stroke:0.25px #000">J</div>
<div style="left:520.60px;top:841.50px;width:28.60px;height:19.70px;background:#ffffff"></div>
<div style="left:549.20px;top:841.50px;width:27.30px;height:19.70px;background:#ffffff"></div>
<div style="left:493.00px;top:861.20px;width:27.60px;height:27.10px;background:#f0f0f0"></div>
<div style="left:520.60px;top:861.20px;width:28.60px;height:27.10px;background:#f0f0f0"></div>
<div style="left:549.20px;top:861.20px;width:27.30px;height:27.10px;background:#f0f0f0"></div>
<div style="left:493.00px;top:888.30px;width:27.60px;height:20.20px;background:#ffff00"></div>
<div class="t" style="left:493.00px;top:888.30px;width:27.60px;height:20.20px;line-height:20.20px;font-size:12.5px;color:#000;-webkit-text-stroke:0.25px #000">J</div>
<div style="left:520.60px;top:888.30px;width:28.60px;height:20.20px;background:#ffffff"></div>
<div style="left:549.20px;top:888.30px;width:27.30px;height:20.20px;background:#00b0f0"></div>
<div class="t" style="left:549.20px;top:888.30px;width:27.30px;height:20.20px;line-height:20.20px;font-size:12.5px;font-weight:bold;color:#fff;transform:scaleX(0.82)">H</div>
<div style="left:520.10px;top:841.50px;width:1.00px;height:67.00px;border-left:1px dotted #cdcdcd"></div>
<div style="left:548.70px;top:841.50px;width:1.00px;height:67.00px;border-left:1px dotted #cdcdcd"></div>
<div style="left:493.00px;top:860.70px;width:83.50px;height:1.00px;border-top:1px dotted #cdcdcd"></div>
<div style="left:493.00px;top:887.80px;width:83.50px;height:1.00px;border-top:1px dotted #cdcdcd"></div>
<div class="t" style="left:577.50px;top:813.80px;width:85.50px;height:26.20px;line-height:26.20px;font-size:20px;color:#111;-webkit-text-stroke:0.45px #111">3</div>
<div style="left:578.50px;top:841.50px;width:27.60px;height:19.70px;background:#ffffff"></div>
<div style="left:606.10px;top:841.50px;width:28.60px;height:19.70px;background:#ffffff"></div>
<div style="left:634.70px;top:841.50px;width:27.30px;height:19.70px;background:#00b0f0"></div>
<div class="t" style="left:634.70px;top:841.50px;width:27.30px;height:19.70px;line-height:19.70px;font-size:12.5px;font-weight:bold;color:#fff;transform:scaleX(0.82)">H</div>
<div style="left:578.50px;top:861.20px;width:27.60px;height:27.10px;background:#f0f0f0"></div>
<div style="left:606.10px;top:861.20px;width:28.60px;height:27.10px;background:#f0f0f0"></div>
<div style="left:634.70px;top:861.20px;width:27.30px;height:27.10px;background:#f0f0f0"></div>
<div style="left:578.50px;top:888.30px;width:27.60px;height:20.20px;background:#ffff00"></div>
<div class="t" style="left:578.50px;top:888.30px;width:27.60px;height:20.20px;line-height:20.20px;font-size:12.5px;color:#000;-webkit-text-stroke:0.25px #000">J</div>
<div style="left:606.10px;top:888.30px;width:28.60px;height:20.20px;background:#ffffff"></div>
<div style="left:634.70px;top:888.30px;width:27.30px;height:20.20px;background:#00b0f0"></div>
<div class="t" style="left:634.70px;top:888.30px;width:27.30px;height:20.20px;line-height:20.20px;font-size:12.5px;font-weight:bold;color:#fff;transform:scaleX(0.82)">H</div>
<div style="left:605.60px;top:841.50px;width:1.00px;height:67.00px;border-left:1px dotted #cdcdcd"></div>
<div style="left:634.20px;top:841.50px;width:1.00px;height:67.00px;border-left:1px dotted #cdcdcd"></div>
<div style="left:578.50px;top:860.70px;width:83.50px;height:1.00px;border-top:1px dotted #cdcdcd"></div>
<div style="left:578.50px;top:887.80px;width:83.50px;height:1.00px;border-top:1px dotted #cdcdcd"></div>
<div class="t" style="left:663.00px;top:813.80px;width:85.50px;height:26.20px;line-height:26.20px;font-size:20px;color:#111;-webkit-text-stroke:0.45px #111">4</div>
<div style="left:664.00px;top:841.50px;width:27.60px;height:19.70px;background:#ffff00"></div>
<div class="t" style="left:664.00px;top:841.50px;width:27.60px;height:19.70px;line-height:19.70px;font-size:12.5px;color:#000;-webkit-text-stroke:0.25px #000">J</div>
<div style="left:691.60px;top:841.50px;width:28.60px;height:19.70px;background:#ffffff"></div>
<div style="left:720.20px;top:841.50px;width:27.30px;height:19.70px;background:#00b0f0"></div>
<div class="t" style="left:720.20px;top:841.50px;width:27.30px;height:19.70px;line-height:19.70px;font-size:12.5px;font-weight:bold;color:#fff;transform:scaleX(0.82)">H</div>
<div style="left:664.00px;top:861.20px;width:27.60px;height:27.10px;background:#f0f0f0"></div>
<div style="left:691.60px;top:861.20px;width:28.60px;height:27.10px;background:#f0f0f0"></div>
<div style="left:720.20px;top:861.20px;width:27.30px;height:27.10px;background:#f0f0f0"></div>
<div style="left:664.00px;top:888.30px;width:27.60px;height:20.20px;background:#f0f0f0"></div>
<div style="left:691.60px;top:888.30px;width:28.60px;height:20.20px;background:#f0f0f0"></div>
<div style="left:720.20px;top:888.30px;width:27.30px;height:20.20px;background:#f0f0f0"></div>
<div style="left:691.10px;top:841.50px;width:1.00px;height:67.00px;border-left:1px dotted #cdcdcd"></div>
<div style="left:719.70px;top:841.50px;width:1.00px;height:67.00px;border-left:1px dotted #cdcdcd"></div>
<div style="left:664.00px;top:860.70px;width:83.50px;height:1.00px;border-top:1px dotted #cdcdcd"></div>
<div style="left:664.00px;top:887.80px;width:83.50px;height:1.00px;border-top:1px dotted #cdcdcd"></div>
<div class="t" style="left:748.50px;top:813.80px;width:85.50px;height:26.20px;line-height:26.20px;font-size:20px;color:#ff0000;-webkit-text-stroke:0.45px #ff0000">5</div>
<div style="left:749.50px;top:841.50px;width:27.60px;height:19.70px;background:#f0f0f0"></div>
<div style="left:777.10px;top:841.50px;width:28.60px;height:19.70px;background:#f0f0f0"></div>
<div style="left:805.70px;top:841.50px;width:23.30px;height:19.70px;background:#f0f0f0"></div>
<div style="left:749.50px;top:861.20px;width:27.60px;height:27.10px;background:#f0f0f0"></div>
<div style="left:777.10px;top:861.20px;width:28.60px;height:27.10px;background:#f0f0f0"></div>
<div style="left:805.70px;top:861.20px;width:23.30px;height:27.10px;background:#f0f0f0"></div>
<div style="left:749.50px;top:888.30px;width:27.60px;height:20.20px;background:#f0f0f0"></div>
<div style="left:777.10px;top:888.30px;width:28.60px;height:20.20px;background:#f0f0f0"></div>
<div style="left:805.70px;top:888.30px;width:23.30px;height:20.20px;background:#f0f0f0"></div>
<div style="left:776.60px;top:841.50px;width:1.00px;height:67.00px;border-left:1px dotted #cdcdcd"></div>
<div style="left:805.20px;top:841.50px;width:1.00px;height:67.00px;border-left:1px dotted #cdcdcd"></div>
<div style="left:749.50px;top:860.70px;width:79.50px;height:1.00px;border-top:1px dotted #cdcdcd"></div>
<div style="left:749.50px;top:887.80px;width:79.50px;height:1.00px;border-top:1px dotted #cdcdcd"></div>
<div style="left:235.50px;top:840.75px;width:594.50px;height:1.50px;background:#262626"></div>
<div style="left:20.00px;top:325.75px;width:215.50px;height:1.50px;background:#4a7fbd"></div>
<div style="left:235.50px;top:325.75px;width:594.50px;height:1.50px;background:#111"></div>
<div style="left:234.50px;top:326.50px;width:2.00px;height:582.00px;background:#111"></div>
<div style="left:320.00px;top:326.50px;width:2.00px;height:582.00px;background:#111"></div>
<div style="left:405.50px;top:326.50px;width:2.00px;height:582.00px;background:#111"></div>
<div style="left:491.00px;top:326.50px;width:2.00px;height:582.00px;background:#111"></div>
<div style="left:576.50px;top:326.50px;width:2.00px;height:582.00px;background:#111"></div>
<div style="left:662.00px;top:326.50px;width:2.00px;height:582.00px;background:#111"></div>
<div style="left:747.50px;top:326.50px;width:2.00px;height:582.00px;background:#111"></div>
<div style="left:829.00px;top:290.50px;width:1.50px;height:618.75px;background:#555"></div>
<div style="left:19.50px;top:290.50px;width:1.50px;height:618.75px;background:#151515"></div>
<div style="left:19.50px;top:907.75px;width:216.00px;height:1.50px;background:#1e4266"></div>
<div style="left:235.50px;top:907.50px;width:595.00px;height:2.00px;background:#111"></div>
<div style="left:19.50px;top:290.30px;width:811.00px;height:1.50px;background:#142030"></div>
<svg style="position:absolute;left:0;top:0" width="850" height="100" viewBox="0 0 850 100">
<g fill="none" stroke="#243c5e" stroke-width="3.3" stroke-linecap="butt" stroke-linejoin="round">
<path d="M269 46.6 A8.4 8.4 0 0 0 260.6 55 L260.6 60.6"/>
<path d="M260.7 64 A8.7 8.7 0 0 0 278 62.6 L278 53.2"/>
<path d="M269.5 53.2 A8.5 8.5 0 0 0 278 61.7"/>
<path d="M323.3 67.6 L323.3 57 A7.95 7.95 0 0 0 307.4 57 L304.9 67.8 L313.6 67.8 L313.6 62.1"/>
<path d="M357.6 46.6 A8.4 8.4 0 0 1 366 55 L366 60.6"/>
<path d="M365.9 64 A8.7 8.7 0 0 1 348.6 62.6 L348.6 53.2"/>
<path d="M357.1 53.2 A8.5 8.5 0 0 1 348.6 61.7"/>
</g>
<g stroke="#a5b0bd" stroke-width="1.1"><line x1="291.3" y1="50" x2="291.3" y2="72"/><line x1="336.4" y1="50" x2="336.4" y2="71.7"/></g>
</svg>
</body></html>
